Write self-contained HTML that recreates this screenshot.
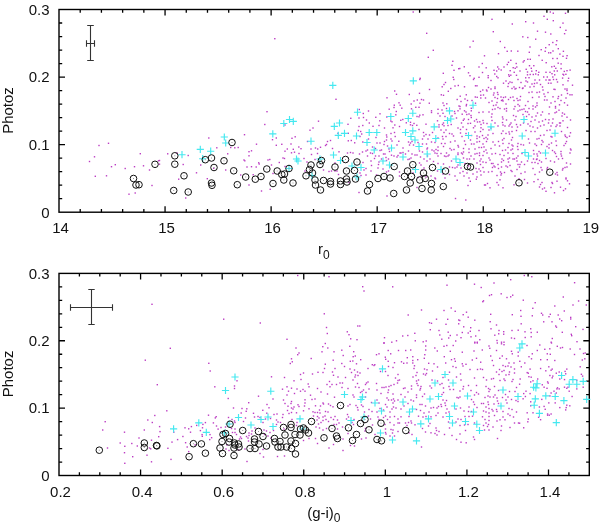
<!DOCTYPE html>
<html><head><meta charset="utf-8"><style>
html,body{margin:0;padding:0;background:#fff;}
svg{display:block;}
text{font-family:"Liberation Sans",Arial,sans-serif;fill:#111;}
</style></head><body>
<svg width="600" height="525" viewBox="0 0 600 525">
<rect width="600" height="525" fill="#fff"/>
<rect x="59" y="9.5" width="530.3" height="202.7" fill="none" stroke="#000" stroke-width="1.4"/>
<path d="M165.06 212.2v-6M165.06 9.5v6M271.12 212.2v-6M271.12 9.5v6M377.18 212.2v-6M377.18 9.5v6M483.24 212.2v-6M483.24 9.5v6M80.21 212.2v-3.2M80.21 9.5v3.2M101.42 212.2v-3.2M101.42 9.5v3.2M122.64 212.2v-3.2M122.64 9.5v3.2M143.85 212.2v-3.2M143.85 9.5v3.2M186.27 212.2v-3.2M186.27 9.5v3.2M207.48 212.2v-3.2M207.48 9.5v3.2M228.70 212.2v-3.2M228.70 9.5v3.2M249.91 212.2v-3.2M249.91 9.5v3.2M292.33 212.2v-3.2M292.33 9.5v3.2M313.54 212.2v-3.2M313.54 9.5v3.2M334.76 212.2v-3.2M334.76 9.5v3.2M355.97 212.2v-3.2M355.97 9.5v3.2M398.39 212.2v-3.2M398.39 9.5v3.2M419.60 212.2v-3.2M419.60 9.5v3.2M440.82 212.2v-3.2M440.82 9.5v3.2M462.03 212.2v-3.2M462.03 9.5v3.2M504.45 212.2v-3.2M504.45 9.5v3.2M525.66 212.2v-3.2M525.66 9.5v3.2M546.88 212.2v-3.2M546.88 9.5v3.2M568.09 212.2v-3.2M568.09 9.5v3.2M59 144.63h6M589.3 144.63h-6M59 77.07h6M589.3 77.07h-6M59 198.69h3.2M589.3 198.69h-3.2M59 185.17h3.2M589.3 185.17h-3.2M59 171.66h3.2M589.3 171.66h-3.2M59 158.15h3.2M589.3 158.15h-3.2M59 131.12h3.2M589.3 131.12h-3.2M59 117.61h3.2M589.3 117.61h-3.2M59 104.09h3.2M589.3 104.09h-3.2M59 90.58h3.2M589.3 90.58h-3.2M59 63.55h3.2M589.3 63.55h-3.2M59 50.04h3.2M589.3 50.04h-3.2M59 36.53h3.2M589.3 36.53h-3.2M59 23.01h3.2M589.3 23.01h-3.2" stroke="#000" stroke-width="1.3" fill="none"/>
<g fill="#bc3cc4"><rect x="98.3" y="144.8" width="1.4" height="1.4"/><rect x="107.8" y="142.6" width="1.4" height="1.4"/><rect x="93.8" y="156.1" width="1.4" height="1.4"/><rect x="88.8" y="160.8" width="1.4" height="1.4"/><rect x="110.8" y="166.0" width="1.4" height="1.4"/><rect x="114.6" y="164.0" width="1.4" height="1.4"/><rect x="124.5" y="167.8" width="1.4" height="1.4"/><rect x="133.8" y="166.0" width="1.4" height="1.4"/><rect x="142.8" y="165.1" width="1.4" height="1.4"/><rect x="139.6" y="153.0" width="1.4" height="1.4"/><rect x="148.8" y="169.3" width="1.4" height="1.4"/><rect x="157.8" y="160.1" width="1.4" height="1.4"/><rect x="94.6" y="175.6" width="1.4" height="1.4"/><rect x="105.8" y="175.1" width="1.4" height="1.4"/><rect x="151.3" y="184.8" width="1.4" height="1.4"/><rect x="128.3" y="193.5" width="1.4" height="1.4"/><rect x="134.5" y="192.3" width="1.4" height="1.4"/><rect x="274.1" y="38.0" width="1.4" height="1.4"/><rect x="412.5" y="11.3" width="1.4" height="1.4"/><rect x="426.0" y="32.6" width="1.4" height="1.4"/><rect x="432.6" y="49.6" width="1.4" height="1.4"/><rect x="427.6" y="56.6" width="1.4" height="1.4"/><rect x="452.1" y="60.6" width="1.4" height="1.4"/><rect x="451.3" y="64.6" width="1.4" height="1.4"/><rect x="453.3" y="69.6" width="1.4" height="1.4"/><rect x="442.6" y="72.6" width="1.4" height="1.4"/><rect x="452.5" y="76.6" width="1.4" height="1.4"/><rect x="419.5" y="77.6" width="1.4" height="1.4"/><rect x="458.0" y="68.0" width="1.4" height="1.4"/><rect x="549.6" y="11.3" width="1.4" height="1.4"/><rect x="552.6" y="12.5" width="1.4" height="1.4"/><rect x="543.3" y="15.6" width="1.4" height="1.4"/><rect x="546.6" y="18.6" width="1.4" height="1.4"/><rect x="552.6" y="20.0" width="1.4" height="1.4"/><rect x="491.3" y="18.6" width="1.4" height="1.4"/><rect x="525.0" y="21.0" width="1.4" height="1.4"/><rect x="532.8" y="22.3" width="1.4" height="1.4"/><rect x="511.6" y="23.3" width="1.4" height="1.4"/><rect x="492.6" y="31.0" width="1.4" height="1.4"/><rect x="536.8" y="30.5" width="1.4" height="1.4"/><rect x="544.8" y="31.5" width="1.4" height="1.4"/><rect x="550.1" y="33.3" width="1.4" height="1.4"/><rect x="522.1" y="36.1" width="1.4" height="1.4"/><rect x="527.1" y="36.8" width="1.4" height="1.4"/><rect x="535.0" y="38.5" width="1.4" height="1.4"/><rect x="556.1" y="40.0" width="1.4" height="1.4"/><rect x="472.5" y="40.5" width="1.4" height="1.4"/><rect x="499.6" y="40.8" width="1.4" height="1.4"/><rect x="469.3" y="46.3" width="1.4" height="1.4"/><rect x="504.0" y="46.8" width="1.4" height="1.4"/><rect x="529.3" y="46.3" width="1.4" height="1.4"/><rect x="545.0" y="47.0" width="1.4" height="1.4"/><rect x="548.5" y="44.0" width="1.4" height="1.4"/><rect x="552.1" y="41.8" width="1.4" height="1.4"/><rect x="555.5" y="44.0" width="1.4" height="1.4"/><rect x="557.6" y="48.0" width="1.4" height="1.4"/><rect x="540.5" y="49.0" width="1.4" height="1.4"/><rect x="544.5" y="50.6" width="1.4" height="1.4"/><rect x="552.3" y="50.3" width="1.4" height="1.4"/><rect x="548.0" y="52.1" width="1.4" height="1.4"/><rect x="550.0" y="52.1" width="1.4" height="1.4"/><rect x="506.5" y="50.6" width="1.4" height="1.4"/><rect x="510.6" y="50.3" width="1.4" height="1.4"/><rect x="517.1" y="50.5" width="1.4" height="1.4"/><rect x="528.6" y="51.6" width="1.4" height="1.4"/><rect x="497.8" y="53.0" width="1.4" height="1.4"/><rect x="483.8" y="55.1" width="1.4" height="1.4"/><rect x="538.3" y="54.8" width="1.4" height="1.4"/><rect x="527.1" y="58.6" width="1.4" height="1.4"/><rect x="529.6" y="58.6" width="1.4" height="1.4"/><rect x="541.5" y="59.6" width="1.4" height="1.4"/><rect x="552.1" y="57.8" width="1.4" height="1.4"/><rect x="556.5" y="57.8" width="1.4" height="1.4"/><rect x="507.8" y="61.6" width="1.4" height="1.4"/><rect x="510.1" y="59.6" width="1.4" height="1.4"/><rect x="522.5" y="61.3" width="1.4" height="1.4"/><rect x="523.5" y="60.0" width="1.4" height="1.4"/><rect x="506.6" y="63.8" width="1.4" height="1.4"/><rect x="515.5" y="62.8" width="1.4" height="1.4"/><rect x="503.3" y="66.3" width="1.4" height="1.4"/><rect x="481.6" y="62.8" width="1.4" height="1.4"/><rect x="478.3" y="66.3" width="1.4" height="1.4"/><rect x="485.5" y="67.1" width="1.4" height="1.4"/><rect x="497.0" y="66.3" width="1.4" height="1.4"/><rect x="516.1" y="66.3" width="1.4" height="1.4"/><rect x="514.5" y="67.6" width="1.4" height="1.4"/><rect x="512.5" y="67.0" width="1.4" height="1.4"/><rect x="528.8" y="65.0" width="1.4" height="1.4"/><rect x="533.1" y="65.0" width="1.4" height="1.4"/><rect x="525.5" y="68.6" width="1.4" height="1.4"/><rect x="530.6" y="67.6" width="1.4" height="1.4"/><rect x="545.5" y="62.0" width="1.4" height="1.4"/><rect x="551.1" y="66.1" width="1.4" height="1.4"/><rect x="553.6" y="65.6" width="1.4" height="1.4"/><rect x="555.1" y="67.6" width="1.4" height="1.4"/><rect x="557.5" y="62.5" width="1.4" height="1.4"/><rect x="459.1" y="67.8" width="1.4" height="1.4"/><rect x="463.6" y="66.1" width="1.4" height="1.4"/><rect x="467.8" y="72.1" width="1.4" height="1.4"/><rect x="469.3" y="75.0" width="1.4" height="1.4"/><rect x="481.8" y="71.8" width="1.4" height="1.4"/><rect x="493.3" y="69.6" width="1.4" height="1.4"/><rect x="496.0" y="70.3" width="1.4" height="1.4"/><rect x="498.1" y="68.3" width="1.4" height="1.4"/><rect x="500.5" y="69.3" width="1.4" height="1.4"/><rect x="513.5" y="71.6" width="1.4" height="1.4"/><rect x="509.5" y="70.0" width="1.4" height="1.4"/><rect x="519.3" y="70.3" width="1.4" height="1.4"/><rect x="526.8" y="71.3" width="1.4" height="1.4"/><rect x="531.1" y="70.5" width="1.4" height="1.4"/><rect x="535.6" y="70.0" width="1.4" height="1.4"/><rect x="538.1" y="71.6" width="1.4" height="1.4"/><rect x="545.3" y="71.6" width="1.4" height="1.4"/><rect x="549.3" y="71.6" width="1.4" height="1.4"/><rect x="553.6" y="70.3" width="1.4" height="1.4"/><rect x="556.6" y="70.3" width="1.4" height="1.4"/><rect x="487.5" y="75.0" width="1.4" height="1.4"/><rect x="494.1" y="73.3" width="1.4" height="1.4"/><rect x="496.0" y="75.8" width="1.4" height="1.4"/><rect x="497.3" y="77.1" width="1.4" height="1.4"/><rect x="508.0" y="74.1" width="1.4" height="1.4"/><rect x="508.6" y="75.6" width="1.4" height="1.4"/><rect x="510.1" y="74.5" width="1.4" height="1.4"/><rect x="515.8" y="74.6" width="1.4" height="1.4"/><rect x="526.8" y="74.1" width="1.4" height="1.4"/><rect x="529.5" y="73.8" width="1.4" height="1.4"/><rect x="532.6" y="73.8" width="1.4" height="1.4"/><rect x="535.0" y="73.3" width="1.4" height="1.4"/><rect x="537.6" y="74.1" width="1.4" height="1.4"/><rect x="551.3" y="73.0" width="1.4" height="1.4"/><rect x="552.1" y="76.3" width="1.4" height="1.4"/><rect x="554.0" y="74.1" width="1.4" height="1.4"/><rect x="473.5" y="77.6" width="1.4" height="1.4"/><rect x="478.3" y="76.6" width="1.4" height="1.4"/><rect x="487.5" y="77.0" width="1.4" height="1.4"/><rect x="525.0" y="77.1" width="1.4" height="1.4"/><rect x="528.3" y="77.0" width="1.4" height="1.4"/><rect x="543.0" y="76.3" width="1.4" height="1.4"/><rect x="546.6" y="76.3" width="1.4" height="1.4"/><rect x="564.8" y="12.6" width="1.4" height="1.4"/><rect x="562.3" y="22.4" width="1.4" height="1.4"/><rect x="559.6" y="26.7" width="1.4" height="1.4"/><rect x="565.2" y="29.6" width="1.4" height="1.4"/><rect x="563.9" y="33.0" width="1.4" height="1.4"/><rect x="562.7" y="50.6" width="1.4" height="1.4"/><rect x="559.2" y="53.4" width="1.4" height="1.4"/><rect x="562.3" y="55.6" width="1.4" height="1.4"/><rect x="566.4" y="55.0" width="1.4" height="1.4"/><rect x="565.8" y="57.6" width="1.4" height="1.4"/><rect x="560.4" y="63.2" width="1.4" height="1.4"/><rect x="560.4" y="67.9" width="1.4" height="1.4"/><rect x="563.6" y="70.7" width="1.4" height="1.4"/><rect x="566.3" y="70.0" width="1.4" height="1.4"/><rect x="569.4" y="69.4" width="1.4" height="1.4"/><rect x="562.3" y="73.6" width="1.4" height="1.4"/><rect x="565.2" y="73.6" width="1.4" height="1.4"/><rect x="561.9" y="77.4" width="1.4" height="1.4"/><rect x="567.9" y="77.6" width="1.4" height="1.4"/><rect x="563.0" y="74.3" width="1.4" height="1.4"/><rect x="208.1" y="137.3" width="1.4" height="1.4"/><rect x="243.8" y="134.0" width="1.4" height="1.4"/><rect x="255.8" y="143.5" width="1.4" height="1.4"/><rect x="237.5" y="146.8" width="1.4" height="1.4"/><rect x="234.1" y="147.1" width="1.4" height="1.4"/><rect x="230.0" y="146.8" width="1.4" height="1.4"/><rect x="216.1" y="147.1" width="1.4" height="1.4"/><rect x="167.0" y="153.1" width="1.4" height="1.4"/><rect x="187.5" y="154.8" width="1.4" height="1.4"/><rect x="176.3" y="152.3" width="1.4" height="1.4"/><rect x="158.8" y="159.8" width="1.4" height="1.4"/><rect x="182.5" y="163.8" width="1.4" height="1.4"/><rect x="200.0" y="164.3" width="1.4" height="1.4"/><rect x="227.0" y="153.1" width="1.4" height="1.4"/><rect x="250.8" y="150.1" width="1.4" height="1.4"/><rect x="248.3" y="151.0" width="1.4" height="1.4"/><rect x="248.3" y="155.1" width="1.4" height="1.4"/><rect x="243.3" y="159.3" width="1.4" height="1.4"/><rect x="244.1" y="160.1" width="1.4" height="1.4"/><rect x="258.0" y="162.1" width="1.4" height="1.4"/><rect x="246.3" y="166.3" width="1.4" height="1.4"/><rect x="250.8" y="166.0" width="1.4" height="1.4"/><rect x="255.5" y="166.3" width="1.4" height="1.4"/><rect x="225.0" y="169.3" width="1.4" height="1.4"/><rect x="195.8" y="172.1" width="1.4" height="1.4"/><rect x="178.0" y="178.5" width="1.4" height="1.4"/><rect x="206.6" y="178.0" width="1.4" height="1.4"/><rect x="240.0" y="174.3" width="1.4" height="1.4"/><rect x="252.5" y="174.0" width="1.4" height="1.4"/><rect x="248.3" y="184.3" width="1.4" height="1.4"/><rect x="185.0" y="197.3" width="1.4" height="1.4"/><rect x="213.0" y="167.6" width="1.4" height="1.4"/><rect x="158.8" y="163.5" width="1.4" height="1.4"/><rect x="266.3" y="111.0" width="1.4" height="1.4"/><rect x="264.1" y="123.8" width="1.4" height="1.4"/><rect x="284.3" y="124.3" width="1.4" height="1.4"/><rect x="275.6" y="137.3" width="1.4" height="1.4"/><rect x="271.8" y="139.0" width="1.4" height="1.4"/><rect x="294.5" y="136.1" width="1.4" height="1.4"/><rect x="291.3" y="137.6" width="1.4" height="1.4"/><rect x="275.6" y="144.6" width="1.4" height="1.4"/><rect x="281.1" y="143.6" width="1.4" height="1.4"/><rect x="290.3" y="143.3" width="1.4" height="1.4"/><rect x="298.1" y="146.3" width="1.4" height="1.4"/><rect x="300.3" y="148.0" width="1.4" height="1.4"/><rect x="292.6" y="148.6" width="1.4" height="1.4"/><rect x="286.6" y="148.3" width="1.4" height="1.4"/><rect x="306.8" y="140.8" width="1.4" height="1.4"/><rect x="317.8" y="120.5" width="1.4" height="1.4"/><rect x="312.3" y="127.3" width="1.4" height="1.4"/><rect x="309.3" y="129.5" width="1.4" height="1.4"/><rect x="350.1" y="117.6" width="1.4" height="1.4"/><rect x="358.6" y="108.8" width="1.4" height="1.4"/><rect x="362.6" y="112.8" width="1.4" height="1.4"/><rect x="358.3" y="117.3" width="1.4" height="1.4"/><rect x="362.8" y="116.8" width="1.4" height="1.4"/><rect x="347.3" y="123.6" width="1.4" height="1.4"/><rect x="358.3" y="125.8" width="1.4" height="1.4"/><rect x="362.1" y="124.8" width="1.4" height="1.4"/><rect x="357.6" y="129.8" width="1.4" height="1.4"/><rect x="360.0" y="130.8" width="1.4" height="1.4"/><rect x="361.0" y="133.3" width="1.4" height="1.4"/><rect x="359.3" y="135.8" width="1.4" height="1.4"/><rect x="347.6" y="132.6" width="1.4" height="1.4"/><rect x="337.3" y="132.6" width="1.4" height="1.4"/><rect x="347.6" y="140.1" width="1.4" height="1.4"/><rect x="350.6" y="139.8" width="1.4" height="1.4"/><rect x="354.0" y="142.1" width="1.4" height="1.4"/><rect x="362.1" y="141.3" width="1.4" height="1.4"/><rect x="329.8" y="139.8" width="1.4" height="1.4"/><rect x="326.8" y="140.8" width="1.4" height="1.4"/><rect x="325.8" y="143.8" width="1.4" height="1.4"/><rect x="324.8" y="144.8" width="1.4" height="1.4"/><rect x="319.8" y="146.6" width="1.4" height="1.4"/><rect x="314.8" y="147.3" width="1.4" height="1.4"/><rect x="317.0" y="148.3" width="1.4" height="1.4"/><rect x="310.3" y="148.3" width="1.4" height="1.4"/><rect x="331.8" y="147.8" width="1.4" height="1.4"/><rect x="335.3" y="98.6" width="1.4" height="1.4"/><rect x="284.3" y="150.5" width="1.4" height="1.4"/><rect x="290.8" y="152.1" width="1.4" height="1.4"/><rect x="293.8" y="151.5" width="1.4" height="1.4"/><rect x="298.3" y="152.8" width="1.4" height="1.4"/><rect x="267.3" y="159.3" width="1.4" height="1.4"/><rect x="269.1" y="158.8" width="1.4" height="1.4"/><rect x="282.3" y="157.3" width="1.4" height="1.4"/><rect x="283.8" y="157.8" width="1.4" height="1.4"/><rect x="278.6" y="161.8" width="1.4" height="1.4"/><rect x="258.5" y="163.3" width="1.4" height="1.4"/><rect x="270.8" y="164.3" width="1.4" height="1.4"/><rect x="272.3" y="172.8" width="1.4" height="1.4"/><rect x="260.8" y="190.3" width="1.4" height="1.4"/><rect x="269.5" y="188.6" width="1.4" height="1.4"/><rect x="303.3" y="157.8" width="1.4" height="1.4"/><rect x="306.3" y="161.3" width="1.4" height="1.4"/><rect x="284.3" y="165.8" width="1.4" height="1.4"/><rect x="304.3" y="170.3" width="1.4" height="1.4"/><rect x="310.8" y="153.8" width="1.4" height="1.4"/><rect x="316.8" y="152.8" width="1.4" height="1.4"/><rect x="338.3" y="151.1" width="1.4" height="1.4"/><rect x="346.8" y="152.3" width="1.4" height="1.4"/><rect x="349.8" y="151.8" width="1.4" height="1.4"/><rect x="352.3" y="152.3" width="1.4" height="1.4"/><rect x="358.8" y="153.3" width="1.4" height="1.4"/><rect x="361.8" y="151.3" width="1.4" height="1.4"/><rect x="314.3" y="158.8" width="1.4" height="1.4"/><rect x="322.8" y="169.3" width="1.4" height="1.4"/><rect x="328.3" y="170.8" width="1.4" height="1.4"/><rect x="330.8" y="170.3" width="1.4" height="1.4"/><rect x="334.3" y="170.3" width="1.4" height="1.4"/><rect x="336.3" y="170.3" width="1.4" height="1.4"/><rect x="337.8" y="173.8" width="1.4" height="1.4"/><rect x="334.3" y="162.3" width="1.4" height="1.4"/><rect x="362.3" y="161.8" width="1.4" height="1.4"/><rect x="363.3" y="169.3" width="1.4" height="1.4"/><rect x="359.3" y="172.3" width="1.4" height="1.4"/><rect x="360.3" y="174.8" width="1.4" height="1.4"/><rect x="358.3" y="191.8" width="1.4" height="1.4"/><rect x="348.3" y="181.8" width="1.4" height="1.4"/><rect x="419.1" y="78.8" width="1.4" height="1.4"/><rect x="394.0" y="90.3" width="1.4" height="1.4"/><rect x="395.8" y="93.6" width="1.4" height="1.4"/><rect x="408.6" y="93.8" width="1.4" height="1.4"/><rect x="418.8" y="92.6" width="1.4" height="1.4"/><rect x="386.3" y="97.1" width="1.4" height="1.4"/><rect x="413.3" y="100.3" width="1.4" height="1.4"/><rect x="416.6" y="99.3" width="1.4" height="1.4"/><rect x="420.8" y="98.8" width="1.4" height="1.4"/><rect x="422.8" y="99.3" width="1.4" height="1.4"/><rect x="398.3" y="102.1" width="1.4" height="1.4"/><rect x="399.5" y="104.5" width="1.4" height="1.4"/><rect x="393.6" y="104.5" width="1.4" height="1.4"/><rect x="393.3" y="106.8" width="1.4" height="1.4"/><rect x="401.1" y="107.5" width="1.4" height="1.4"/><rect x="410.5" y="103.3" width="1.4" height="1.4"/><rect x="419.3" y="102.5" width="1.4" height="1.4"/><rect x="415.1" y="106.6" width="1.4" height="1.4"/><rect x="418.3" y="106.6" width="1.4" height="1.4"/><rect x="410.8" y="108.1" width="1.4" height="1.4"/><rect x="388.5" y="108.5" width="1.4" height="1.4"/><rect x="395.6" y="110.8" width="1.4" height="1.4"/><rect x="367.8" y="110.3" width="1.4" height="1.4"/><rect x="379.3" y="113.1" width="1.4" height="1.4"/><rect x="395.1" y="114.1" width="1.4" height="1.4"/><rect x="386.1" y="116.3" width="1.4" height="1.4"/><rect x="375.1" y="116.6" width="1.4" height="1.4"/><rect x="365.8" y="119.3" width="1.4" height="1.4"/><rect x="379.1" y="120.1" width="1.4" height="1.4"/><rect x="368.6" y="122.3" width="1.4" height="1.4"/><rect x="390.1" y="120.3" width="1.4" height="1.4"/><rect x="391.3" y="121.1" width="1.4" height="1.4"/><rect x="400.1" y="119.6" width="1.4" height="1.4"/><rect x="402.1" y="118.8" width="1.4" height="1.4"/><rect x="405.6" y="122.1" width="1.4" height="1.4"/><rect x="409.8" y="121.6" width="1.4" height="1.4"/><rect x="413.3" y="122.8" width="1.4" height="1.4"/><rect x="409.8" y="124.1" width="1.4" height="1.4"/><rect x="411.8" y="124.8" width="1.4" height="1.4"/><rect x="416.1" y="124.6" width="1.4" height="1.4"/><rect x="416.3" y="115.8" width="1.4" height="1.4"/><rect x="418.3" y="116.1" width="1.4" height="1.4"/><rect x="419.1" y="114.5" width="1.4" height="1.4"/><rect x="422.3" y="114.1" width="1.4" height="1.4"/><rect x="394.1" y="124.3" width="1.4" height="1.4"/><rect x="398.8" y="125.8" width="1.4" height="1.4"/><rect x="378.3" y="124.8" width="1.4" height="1.4"/><rect x="372.3" y="125.6" width="1.4" height="1.4"/><rect x="383.8" y="127.3" width="1.4" height="1.4"/><rect x="392.3" y="127.1" width="1.4" height="1.4"/><rect x="393.8" y="131.8" width="1.4" height="1.4"/><rect x="390.3" y="132.8" width="1.4" height="1.4"/><rect x="385.8" y="134.3" width="1.4" height="1.4"/><rect x="386.1" y="136.3" width="1.4" height="1.4"/><rect x="394.5" y="135.8" width="1.4" height="1.4"/><rect x="398.1" y="140.6" width="1.4" height="1.4"/><rect x="390.3" y="138.3" width="1.4" height="1.4"/><rect x="391.3" y="140.3" width="1.4" height="1.4"/><rect x="385.8" y="139.3" width="1.4" height="1.4"/><rect x="383.8" y="140.8" width="1.4" height="1.4"/><rect x="376.3" y="142.3" width="1.4" height="1.4"/><rect x="379.3" y="142.3" width="1.4" height="1.4"/><rect x="375.3" y="136.8" width="1.4" height="1.4"/><rect x="367.8" y="138.3" width="1.4" height="1.4"/><rect x="383.3" y="143.8" width="1.4" height="1.4"/><rect x="386.8" y="145.3" width="1.4" height="1.4"/><rect x="388.3" y="148.3" width="1.4" height="1.4"/><rect x="396.3" y="144.3" width="1.4" height="1.4"/><rect x="402.3" y="147.3" width="1.4" height="1.4"/><rect x="407.8" y="141.3" width="1.4" height="1.4"/><rect x="409.8" y="142.3" width="1.4" height="1.4"/><rect x="411.3" y="140.8" width="1.4" height="1.4"/><rect x="408.8" y="144.3" width="1.4" height="1.4"/><rect x="412.8" y="144.3" width="1.4" height="1.4"/><rect x="417.3" y="141.8" width="1.4" height="1.4"/><rect x="421.8" y="143.3" width="1.4" height="1.4"/><rect x="421.8" y="138.3" width="1.4" height="1.4"/><rect x="423.3" y="135.3" width="1.4" height="1.4"/><rect x="422.8" y="131.8" width="1.4" height="1.4"/><rect x="418.3" y="128.8" width="1.4" height="1.4"/><rect x="371.8" y="146.3" width="1.4" height="1.4"/><rect x="366.8" y="149.3" width="1.4" height="1.4"/><rect x="365.3" y="150.3" width="1.4" height="1.4"/><rect x="369.8" y="152.3" width="1.4" height="1.4"/><rect x="371.8" y="152.8" width="1.4" height="1.4"/><rect x="374.8" y="147.8" width="1.4" height="1.4"/><rect x="379.3" y="149.8" width="1.4" height="1.4"/><rect x="380.8" y="149.3" width="1.4" height="1.4"/><rect x="388.8" y="150.8" width="1.4" height="1.4"/><rect x="382.8" y="153.3" width="1.4" height="1.4"/><rect x="384.3" y="153.3" width="1.4" height="1.4"/><rect x="378.3" y="155.3" width="1.4" height="1.4"/><rect x="374.8" y="155.3" width="1.4" height="1.4"/><rect x="366.8" y="155.3" width="1.4" height="1.4"/><rect x="373.8" y="157.8" width="1.4" height="1.4"/><rect x="370.3" y="160.3" width="1.4" height="1.4"/><rect x="385.3" y="156.8" width="1.4" height="1.4"/><rect x="390.8" y="154.5" width="1.4" height="1.4"/><rect x="393.3" y="155.3" width="1.4" height="1.4"/><rect x="396.3" y="156.3" width="1.4" height="1.4"/><rect x="399.3" y="152.3" width="1.4" height="1.4"/><rect x="400.3" y="152.3" width="1.4" height="1.4"/><rect x="402.3" y="151.8" width="1.4" height="1.4"/><rect x="397.3" y="154.8" width="1.4" height="1.4"/><rect x="411.3" y="153.3" width="1.4" height="1.4"/><rect x="407.8" y="150.3" width="1.4" height="1.4"/><rect x="408.8" y="158.3" width="1.4" height="1.4"/><rect x="410.3" y="157.3" width="1.4" height="1.4"/><rect x="407.3" y="158.8" width="1.4" height="1.4"/><rect x="404.8" y="153.3" width="1.4" height="1.4"/><rect x="414.3" y="154.3" width="1.4" height="1.4"/><rect x="416.3" y="154.3" width="1.4" height="1.4"/><rect x="418.8" y="150.3" width="1.4" height="1.4"/><rect x="421.8" y="151.3" width="1.4" height="1.4"/><rect x="419.8" y="156.3" width="1.4" height="1.4"/><rect x="423.3" y="158.3" width="1.4" height="1.4"/><rect x="418.8" y="162.3" width="1.4" height="1.4"/><rect x="420.3" y="164.3" width="1.4" height="1.4"/><rect x="423.3" y="167.3" width="1.4" height="1.4"/><rect x="378.3" y="161.3" width="1.4" height="1.4"/><rect x="385.8" y="159.8" width="1.4" height="1.4"/><rect x="387.8" y="158.3" width="1.4" height="1.4"/><rect x="380.8" y="158.3" width="1.4" height="1.4"/><rect x="370.8" y="164.8" width="1.4" height="1.4"/><rect x="377.3" y="167.3" width="1.4" height="1.4"/><rect x="382.3" y="168.3" width="1.4" height="1.4"/><rect x="385.8" y="171.3" width="1.4" height="1.4"/><rect x="387.8" y="170.3" width="1.4" height="1.4"/><rect x="370.3" y="170.3" width="1.4" height="1.4"/><rect x="365.3" y="167.8" width="1.4" height="1.4"/><rect x="365.3" y="174.3" width="1.4" height="1.4"/><rect x="375.8" y="174.3" width="1.4" height="1.4"/><rect x="421.3" y="169.3" width="1.4" height="1.4"/><rect x="398.8" y="171.3" width="1.4" height="1.4"/><rect x="398.8" y="175.3" width="1.4" height="1.4"/><rect x="412.3" y="172.3" width="1.4" height="1.4"/><rect x="417.3" y="176.8" width="1.4" height="1.4"/><rect x="420.8" y="175.3" width="1.4" height="1.4"/><rect x="377.8" y="163.8" width="1.4" height="1.4"/><rect x="386.3" y="195.3" width="1.4" height="1.4"/><rect x="416.3" y="186.8" width="1.4" height="1.4"/><rect x="453.1" y="78.8" width="1.4" height="1.4"/><rect x="472.8" y="78.8" width="1.4" height="1.4"/><rect x="444.8" y="81.8" width="1.4" height="1.4"/><rect x="443.3" y="83.8" width="1.4" height="1.4"/><rect x="441.5" y="86.1" width="1.4" height="1.4"/><rect x="454.3" y="85.3" width="1.4" height="1.4"/><rect x="457.6" y="84.8" width="1.4" height="1.4"/><rect x="463.8" y="86.1" width="1.4" height="1.4"/><rect x="474.8" y="85.1" width="1.4" height="1.4"/><rect x="476.3" y="85.1" width="1.4" height="1.4"/><rect x="428.8" y="88.8" width="1.4" height="1.4"/><rect x="450.1" y="87.8" width="1.4" height="1.4"/><rect x="447.6" y="90.6" width="1.4" height="1.4"/><rect x="479.8" y="90.8" width="1.4" height="1.4"/><rect x="482.1" y="89.3" width="1.4" height="1.4"/><rect x="440.6" y="94.1" width="1.4" height="1.4"/><rect x="442.8" y="94.6" width="1.4" height="1.4"/><rect x="459.5" y="95.5" width="1.4" height="1.4"/><rect x="465.6" y="94.1" width="1.4" height="1.4"/><rect x="474.6" y="96.3" width="1.4" height="1.4"/><rect x="476.5" y="96.6" width="1.4" height="1.4"/><rect x="480.1" y="94.5" width="1.4" height="1.4"/><rect x="482.8" y="94.3" width="1.4" height="1.4"/><rect x="480.1" y="97.3" width="1.4" height="1.4"/><rect x="456.5" y="98.8" width="1.4" height="1.4"/><rect x="464.3" y="98.3" width="1.4" height="1.4"/><rect x="466.8" y="99.8" width="1.4" height="1.4"/><rect x="471.3" y="99.8" width="1.4" height="1.4"/><rect x="460.3" y="100.8" width="1.4" height="1.4"/><rect x="428.6" y="102.5" width="1.4" height="1.4"/><rect x="442.3" y="102.3" width="1.4" height="1.4"/><rect x="446.1" y="103.1" width="1.4" height="1.4"/><rect x="443.3" y="104.8" width="1.4" height="1.4"/><rect x="458.3" y="105.3" width="1.4" height="1.4"/><rect x="459.3" y="105.8" width="1.4" height="1.4"/><rect x="465.8" y="103.8" width="1.4" height="1.4"/><rect x="465.6" y="105.1" width="1.4" height="1.4"/><rect x="474.8" y="102.5" width="1.4" height="1.4"/><rect x="445.8" y="107.8" width="1.4" height="1.4"/><rect x="459.3" y="108.1" width="1.4" height="1.4"/><rect x="437.3" y="108.6" width="1.4" height="1.4"/><rect x="441.3" y="109.3" width="1.4" height="1.4"/><rect x="430.8" y="110.1" width="1.4" height="1.4"/><rect x="430.8" y="111.8" width="1.4" height="1.4"/><rect x="437.3" y="112.8" width="1.4" height="1.4"/><rect x="442.3" y="112.6" width="1.4" height="1.4"/><rect x="439.3" y="115.3" width="1.4" height="1.4"/><rect x="453.8" y="110.8" width="1.4" height="1.4"/><rect x="457.3" y="110.1" width="1.4" height="1.4"/><rect x="463.8" y="110.1" width="1.4" height="1.4"/><rect x="465.3" y="111.3" width="1.4" height="1.4"/><rect x="470.6" y="110.1" width="1.4" height="1.4"/><rect x="470.6" y="107.6" width="1.4" height="1.4"/><rect x="478.3" y="111.8" width="1.4" height="1.4"/><rect x="482.3" y="111.3" width="1.4" height="1.4"/><rect x="454.3" y="112.8" width="1.4" height="1.4"/><rect x="461.5" y="113.5" width="1.4" height="1.4"/><rect x="466.1" y="113.8" width="1.4" height="1.4"/><rect x="468.3" y="113.3" width="1.4" height="1.4"/><rect x="470.3" y="114.8" width="1.4" height="1.4"/><rect x="470.6" y="116.8" width="1.4" height="1.4"/><rect x="444.3" y="115.8" width="1.4" height="1.4"/><rect x="451.3" y="115.3" width="1.4" height="1.4"/><rect x="455.8" y="117.3" width="1.4" height="1.4"/><rect x="463.5" y="118.3" width="1.4" height="1.4"/><rect x="462.6" y="119.6" width="1.4" height="1.4"/><rect x="467.8" y="118.8" width="1.4" height="1.4"/><rect x="473.8" y="120.3" width="1.4" height="1.4"/><rect x="475.8" y="118.8" width="1.4" height="1.4"/><rect x="476.8" y="121.3" width="1.4" height="1.4"/><rect x="479.1" y="121.1" width="1.4" height="1.4"/><rect x="482.3" y="119.8" width="1.4" height="1.4"/><rect x="436.8" y="120.1" width="1.4" height="1.4"/><rect x="442.8" y="122.3" width="1.4" height="1.4"/><rect x="425.3" y="123.5" width="1.4" height="1.4"/><rect x="438.3" y="124.1" width="1.4" height="1.4"/><rect x="441.8" y="123.8" width="1.4" height="1.4"/><rect x="443.3" y="125.1" width="1.4" height="1.4"/><rect x="450.5" y="123.8" width="1.4" height="1.4"/><rect x="447.3" y="124.8" width="1.4" height="1.4"/><rect x="460.8" y="122.3" width="1.4" height="1.4"/><rect x="467.3" y="122.8" width="1.4" height="1.4"/><rect x="469.8" y="122.6" width="1.4" height="1.4"/><rect x="474.3" y="125.3" width="1.4" height="1.4"/><rect x="480.3" y="123.8" width="1.4" height="1.4"/><rect x="482.8" y="122.3" width="1.4" height="1.4"/><rect x="438.3" y="126.3" width="1.4" height="1.4"/><rect x="457.3" y="127.3" width="1.4" height="1.4"/><rect x="462.3" y="126.3" width="1.4" height="1.4"/><rect x="472.8" y="127.1" width="1.4" height="1.4"/><rect x="480.3" y="127.1" width="1.4" height="1.4"/><rect x="440.3" y="129.3" width="1.4" height="1.4"/><rect x="445.3" y="129.3" width="1.4" height="1.4"/><rect x="459.8" y="128.8" width="1.4" height="1.4"/><rect x="465.8" y="128.8" width="1.4" height="1.4"/><rect x="482.3" y="128.8" width="1.4" height="1.4"/><rect x="431.8" y="131.8" width="1.4" height="1.4"/><rect x="443.3" y="131.8" width="1.4" height="1.4"/><rect x="448.8" y="132.8" width="1.4" height="1.4"/><rect x="451.3" y="133.3" width="1.4" height="1.4"/><rect x="459.8" y="132.3" width="1.4" height="1.4"/><rect x="465.3" y="132.8" width="1.4" height="1.4"/><rect x="474.3" y="131.3" width="1.4" height="1.4"/><rect x="479.8" y="130.8" width="1.4" height="1.4"/><rect x="425.3" y="133.8" width="1.4" height="1.4"/><rect x="428.8" y="134.3" width="1.4" height="1.4"/><rect x="441.8" y="135.8" width="1.4" height="1.4"/><rect x="445.3" y="135.8" width="1.4" height="1.4"/><rect x="452.8" y="135.3" width="1.4" height="1.4"/><rect x="461.3" y="135.8" width="1.4" height="1.4"/><rect x="470.8" y="134.8" width="1.4" height="1.4"/><rect x="476.3" y="135.3" width="1.4" height="1.4"/><rect x="478.8" y="136.3" width="1.4" height="1.4"/><rect x="481.8" y="134.8" width="1.4" height="1.4"/><rect x="483.3" y="137.8" width="1.4" height="1.4"/><rect x="427.3" y="138.3" width="1.4" height="1.4"/><rect x="437.3" y="137.3" width="1.4" height="1.4"/><rect x="442.3" y="138.3" width="1.4" height="1.4"/><rect x="476.3" y="137.8" width="1.4" height="1.4"/><rect x="425.8" y="143.3" width="1.4" height="1.4"/><rect x="430.8" y="141.3" width="1.4" height="1.4"/><rect x="434.3" y="141.8" width="1.4" height="1.4"/><rect x="440.8" y="142.8" width="1.4" height="1.4"/><rect x="444.3" y="142.8" width="1.4" height="1.4"/><rect x="449.8" y="141.3" width="1.4" height="1.4"/><rect x="454.3" y="140.3" width="1.4" height="1.4"/><rect x="463.8" y="140.3" width="1.4" height="1.4"/><rect x="469.8" y="139.3" width="1.4" height="1.4"/><rect x="470.8" y="143.3" width="1.4" height="1.4"/><rect x="473.3" y="143.3" width="1.4" height="1.4"/><rect x="476.3" y="141.3" width="1.4" height="1.4"/><rect x="478.8" y="140.8" width="1.4" height="1.4"/><rect x="482.3" y="143.3" width="1.4" height="1.4"/><rect x="464.8" y="143.8" width="1.4" height="1.4"/><rect x="457.3" y="144.8" width="1.4" height="1.4"/><rect x="457.8" y="146.3" width="1.4" height="1.4"/><rect x="426.8" y="147.3" width="1.4" height="1.4"/><rect x="426.3" y="148.3" width="1.4" height="1.4"/><rect x="437.3" y="146.3" width="1.4" height="1.4"/><rect x="442.8" y="145.8" width="1.4" height="1.4"/><rect x="449.3" y="147.8" width="1.4" height="1.4"/><rect x="462.8" y="147.8" width="1.4" height="1.4"/><rect x="468.3" y="148.3" width="1.4" height="1.4"/><rect x="474.3" y="148.3" width="1.4" height="1.4"/><rect x="478.3" y="146.8" width="1.4" height="1.4"/><rect x="480.8" y="146.8" width="1.4" height="1.4"/><rect x="483.3" y="146.3" width="1.4" height="1.4"/><rect x="431.3" y="149.3" width="1.4" height="1.4"/><rect x="433.3" y="150.3" width="1.4" height="1.4"/><rect x="435.3" y="148.8" width="1.4" height="1.4"/><rect x="437.3" y="149.8" width="1.4" height="1.4"/><rect x="434.3" y="152.3" width="1.4" height="1.4"/><rect x="436.3" y="152.8" width="1.4" height="1.4"/><rect x="440.3" y="152.8" width="1.4" height="1.4"/><rect x="437.3" y="155.3" width="1.4" height="1.4"/><rect x="445.8" y="152.3" width="1.4" height="1.4"/><rect x="448.3" y="154.3" width="1.4" height="1.4"/><rect x="447.3" y="155.3" width="1.4" height="1.4"/><rect x="445.3" y="155.8" width="1.4" height="1.4"/><rect x="443.8" y="155.3" width="1.4" height="1.4"/><rect x="450.8" y="149.3" width="1.4" height="1.4"/><rect x="453.3" y="148.8" width="1.4" height="1.4"/><rect x="457.3" y="152.3" width="1.4" height="1.4"/><rect x="460.8" y="152.3" width="1.4" height="1.4"/><rect x="461.8" y="153.3" width="1.4" height="1.4"/><rect x="462.8" y="151.3" width="1.4" height="1.4"/><rect x="457.3" y="153.8" width="1.4" height="1.4"/><rect x="468.3" y="151.8" width="1.4" height="1.4"/><rect x="470.3" y="155.3" width="1.4" height="1.4"/><rect x="474.3" y="153.3" width="1.4" height="1.4"/><rect x="476.3" y="152.8" width="1.4" height="1.4"/><rect x="478.8" y="152.3" width="1.4" height="1.4"/><rect x="478.8" y="154.8" width="1.4" height="1.4"/><rect x="482.3" y="154.8" width="1.4" height="1.4"/><rect x="483.3" y="150.8" width="1.4" height="1.4"/><rect x="426.8" y="155.3" width="1.4" height="1.4"/><rect x="429.3" y="158.3" width="1.4" height="1.4"/><rect x="480.3" y="158.3" width="1.4" height="1.4"/><rect x="473.3" y="158.3" width="1.4" height="1.4"/><rect x="466.3" y="158.3" width="1.4" height="1.4"/><rect x="462.8" y="157.3" width="1.4" height="1.4"/><rect x="468.8" y="158.3" width="1.4" height="1.4"/><rect x="426.3" y="160.3" width="1.4" height="1.4"/><rect x="432.8" y="160.8" width="1.4" height="1.4"/><rect x="437.3" y="162.8" width="1.4" height="1.4"/><rect x="442.8" y="163.3" width="1.4" height="1.4"/><rect x="450.8" y="160.3" width="1.4" height="1.4"/><rect x="457.3" y="164.3" width="1.4" height="1.4"/><rect x="456.3" y="166.3" width="1.4" height="1.4"/><rect x="460.3" y="167.3" width="1.4" height="1.4"/><rect x="454.3" y="167.3" width="1.4" height="1.4"/><rect x="448.8" y="166.3" width="1.4" height="1.4"/><rect x="451.8" y="166.8" width="1.4" height="1.4"/><rect x="467.8" y="165.3" width="1.4" height="1.4"/><rect x="476.3" y="162.3" width="1.4" height="1.4"/><rect x="479.3" y="160.3" width="1.4" height="1.4"/><rect x="482.3" y="161.3" width="1.4" height="1.4"/><rect x="479.8" y="163.8" width="1.4" height="1.4"/><rect x="482.3" y="166.8" width="1.4" height="1.4"/><rect x="475.3" y="167.8" width="1.4" height="1.4"/><rect x="478.3" y="168.3" width="1.4" height="1.4"/><rect x="464.3" y="162.8" width="1.4" height="1.4"/><rect x="436.8" y="170.3" width="1.4" height="1.4"/><rect x="442.3" y="173.3" width="1.4" height="1.4"/><rect x="448.8" y="173.8" width="1.4" height="1.4"/><rect x="454.3" y="175.3" width="1.4" height="1.4"/><rect x="459.3" y="172.3" width="1.4" height="1.4"/><rect x="462.3" y="170.8" width="1.4" height="1.4"/><rect x="466.3" y="172.3" width="1.4" height="1.4"/><rect x="472.3" y="173.3" width="1.4" height="1.4"/><rect x="476.3" y="171.3" width="1.4" height="1.4"/><rect x="479.8" y="170.3" width="1.4" height="1.4"/><rect x="483.3" y="171.3" width="1.4" height="1.4"/><rect x="480.3" y="174.3" width="1.4" height="1.4"/><rect x="476.3" y="176.3" width="1.4" height="1.4"/><rect x="468.3" y="177.3" width="1.4" height="1.4"/><rect x="463.3" y="175.3" width="1.4" height="1.4"/><rect x="434.3" y="177.3" width="1.4" height="1.4"/><rect x="430.3" y="175.3" width="1.4" height="1.4"/><rect x="425.3" y="176.3" width="1.4" height="1.4"/><rect x="444.3" y="177.3" width="1.4" height="1.4"/><rect x="434.8" y="178.1" width="1.4" height="1.4"/><rect x="456.5" y="179.5" width="1.4" height="1.4"/><rect x="469.6" y="180.6" width="1.4" height="1.4"/><rect x="475.6" y="178.5" width="1.4" height="1.4"/><rect x="467.3" y="184.8" width="1.4" height="1.4"/><rect x="454.8" y="197.8" width="1.4" height="1.4"/><rect x="465.1" y="199.3" width="1.4" height="1.4"/><rect x="483.8" y="184.3" width="1.4" height="1.4"/><rect x="490.3" y="79.8" width="1.4" height="1.4"/><rect x="502.8" y="82.5" width="1.4" height="1.4"/><rect x="505.3" y="80.3" width="1.4" height="1.4"/><rect x="507.8" y="82.8" width="1.4" height="1.4"/><rect x="509.3" y="81.3" width="1.4" height="1.4"/><rect x="511.3" y="81.8" width="1.4" height="1.4"/><rect x="507.3" y="85.8" width="1.4" height="1.4"/><rect x="511.3" y="87.8" width="1.4" height="1.4"/><rect x="514.3" y="88.3" width="1.4" height="1.4"/><rect x="513.3" y="86.3" width="1.4" height="1.4"/><rect x="515.3" y="87.8" width="1.4" height="1.4"/><rect x="485.8" y="89.3" width="1.4" height="1.4"/><rect x="487.8" y="86.8" width="1.4" height="1.4"/><rect x="490.3" y="88.3" width="1.4" height="1.4"/><rect x="494.3" y="86.3" width="1.4" height="1.4"/><rect x="494.3" y="87.8" width="1.4" height="1.4"/><rect x="486.3" y="90.3" width="1.4" height="1.4"/><rect x="493.3" y="92.3" width="1.4" height="1.4"/><rect x="496.8" y="91.8" width="1.4" height="1.4"/><rect x="497.3" y="93.8" width="1.4" height="1.4"/><rect x="492.8" y="94.3" width="1.4" height="1.4"/><rect x="494.3" y="96.8" width="1.4" height="1.4"/><rect x="496.8" y="97.8" width="1.4" height="1.4"/><rect x="500.3" y="96.3" width="1.4" height="1.4"/><rect x="502.8" y="96.8" width="1.4" height="1.4"/><rect x="504.8" y="96.3" width="1.4" height="1.4"/><rect x="501.8" y="99.3" width="1.4" height="1.4"/><rect x="502.3" y="100.3" width="1.4" height="1.4"/><rect x="500.8" y="99.8" width="1.4" height="1.4"/><rect x="488.3" y="101.8" width="1.4" height="1.4"/><rect x="491.3" y="100.3" width="1.4" height="1.4"/><rect x="496.3" y="101.8" width="1.4" height="1.4"/><rect x="507.8" y="98.8" width="1.4" height="1.4"/><rect x="509.8" y="96.8" width="1.4" height="1.4"/><rect x="512.3" y="96.3" width="1.4" height="1.4"/><rect x="513.3" y="99.8" width="1.4" height="1.4"/><rect x="484.8" y="97.3" width="1.4" height="1.4"/><rect x="517.3" y="78.8" width="1.4" height="1.4"/><rect x="520.3" y="81.8" width="1.4" height="1.4"/><rect x="525.3" y="80.3" width="1.4" height="1.4"/><rect x="526.8" y="81.3" width="1.4" height="1.4"/><rect x="531.3" y="83.3" width="1.4" height="1.4"/><rect x="533.8" y="82.8" width="1.4" height="1.4"/><rect x="536.3" y="82.3" width="1.4" height="1.4"/><rect x="538.8" y="79.3" width="1.4" height="1.4"/><rect x="534.3" y="79.3" width="1.4" height="1.4"/><rect x="541.8" y="86.3" width="1.4" height="1.4"/><rect x="539.8" y="83.8" width="1.4" height="1.4"/><rect x="518.8" y="86.8" width="1.4" height="1.4"/><rect x="521.8" y="87.8" width="1.4" height="1.4"/><rect x="522.3" y="87.3" width="1.4" height="1.4"/><rect x="524.3" y="85.3" width="1.4" height="1.4"/><rect x="529.3" y="86.3" width="1.4" height="1.4"/><rect x="533.3" y="85.8" width="1.4" height="1.4"/><rect x="528.3" y="91.8" width="1.4" height="1.4"/><rect x="531.3" y="91.3" width="1.4" height="1.4"/><rect x="536.3" y="91.8" width="1.4" height="1.4"/><rect x="538.8" y="91.3" width="1.4" height="1.4"/><rect x="542.3" y="89.3" width="1.4" height="1.4"/><rect x="543.3" y="93.3" width="1.4" height="1.4"/><rect x="538.3" y="96.3" width="1.4" height="1.4"/><rect x="531.8" y="96.8" width="1.4" height="1.4"/><rect x="519.8" y="95.8" width="1.4" height="1.4"/><rect x="516.3" y="97.8" width="1.4" height="1.4"/><rect x="517.3" y="99.8" width="1.4" height="1.4"/><rect x="519.3" y="99.3" width="1.4" height="1.4"/><rect x="527.3" y="100.8" width="1.4" height="1.4"/><rect x="536.3" y="102.3" width="1.4" height="1.4"/><rect x="543.8" y="99.3" width="1.4" height="1.4"/><rect x="492.8" y="104.8" width="1.4" height="1.4"/><rect x="495.3" y="104.3" width="1.4" height="1.4"/><rect x="497.3" y="106.8" width="1.4" height="1.4"/><rect x="499.3" y="107.8" width="1.4" height="1.4"/><rect x="494.3" y="108.3" width="1.4" height="1.4"/><rect x="491.8" y="108.8" width="1.4" height="1.4"/><rect x="503.8" y="108.3" width="1.4" height="1.4"/><rect x="505.8" y="107.8" width="1.4" height="1.4"/><rect x="505.8" y="110.3" width="1.4" height="1.4"/><rect x="505.3" y="103.3" width="1.4" height="1.4"/><rect x="488.3" y="111.3" width="1.4" height="1.4"/><rect x="491.3" y="113.3" width="1.4" height="1.4"/><rect x="490.8" y="116.3" width="1.4" height="1.4"/><rect x="491.3" y="119.8" width="1.4" height="1.4"/><rect x="494.3" y="122.3" width="1.4" height="1.4"/><rect x="501.8" y="116.3" width="1.4" height="1.4"/><rect x="502.3" y="118.3" width="1.4" height="1.4"/><rect x="505.8" y="119.3" width="1.4" height="1.4"/><rect x="501.8" y="121.8" width="1.4" height="1.4"/><rect x="502.3" y="124.3" width="1.4" height="1.4"/><rect x="510.3" y="122.3" width="1.4" height="1.4"/><rect x="509.3" y="123.8" width="1.4" height="1.4"/><rect x="513.3" y="108.3" width="1.4" height="1.4"/><rect x="514.3" y="105.8" width="1.4" height="1.4"/><rect x="512.8" y="114.8" width="1.4" height="1.4"/><rect x="515.3" y="115.8" width="1.4" height="1.4"/><rect x="514.3" y="119.3" width="1.4" height="1.4"/><rect x="486.3" y="122.8" width="1.4" height="1.4"/><rect x="497.3" y="125.3" width="1.4" height="1.4"/><rect x="504.3" y="125.3" width="1.4" height="1.4"/><rect x="508.3" y="125.3" width="1.4" height="1.4"/><rect x="511.3" y="126.3" width="1.4" height="1.4"/><rect x="490.3" y="127.3" width="1.4" height="1.4"/><rect x="517.3" y="103.8" width="1.4" height="1.4"/><rect x="518.8" y="105.3" width="1.4" height="1.4"/><rect x="524.8" y="104.8" width="1.4" height="1.4"/><rect x="528.3" y="107.8" width="1.4" height="1.4"/><rect x="532.3" y="105.3" width="1.4" height="1.4"/><rect x="536.3" y="104.8" width="1.4" height="1.4"/><rect x="534.8" y="106.3" width="1.4" height="1.4"/><rect x="532.3" y="108.3" width="1.4" height="1.4"/><rect x="523.3" y="108.3" width="1.4" height="1.4"/><rect x="524.8" y="110.8" width="1.4" height="1.4"/><rect x="521.3" y="108.8" width="1.4" height="1.4"/><rect x="519.3" y="109.3" width="1.4" height="1.4"/><rect x="517.3" y="110.3" width="1.4" height="1.4"/><rect x="526.8" y="111.3" width="1.4" height="1.4"/><rect x="522.3" y="113.8" width="1.4" height="1.4"/><rect x="525.8" y="115.8" width="1.4" height="1.4"/><rect x="528.3" y="113.8" width="1.4" height="1.4"/><rect x="536.8" y="112.3" width="1.4" height="1.4"/><rect x="541.8" y="111.3" width="1.4" height="1.4"/><rect x="540.3" y="114.3" width="1.4" height="1.4"/><rect x="535.3" y="115.3" width="1.4" height="1.4"/><rect x="534.3" y="119.3" width="1.4" height="1.4"/><rect x="538.3" y="121.3" width="1.4" height="1.4"/><rect x="541.8" y="120.3" width="1.4" height="1.4"/><rect x="530.3" y="120.8" width="1.4" height="1.4"/><rect x="527.3" y="123.3" width="1.4" height="1.4"/><rect x="522.8" y="122.3" width="1.4" height="1.4"/><rect x="515.8" y="123.8" width="1.4" height="1.4"/><rect x="519.8" y="124.3" width="1.4" height="1.4"/><rect x="516.8" y="126.3" width="1.4" height="1.4"/><rect x="529.3" y="125.3" width="1.4" height="1.4"/><rect x="532.3" y="126.3" width="1.4" height="1.4"/><rect x="536.8" y="127.3" width="1.4" height="1.4"/><rect x="539.8" y="125.3" width="1.4" height="1.4"/><rect x="543.3" y="124.3" width="1.4" height="1.4"/><rect x="531.3" y="116.3" width="1.4" height="1.4"/><rect x="488.3" y="129.3" width="1.4" height="1.4"/><rect x="487.3" y="134.3" width="1.4" height="1.4"/><rect x="485.3" y="136.8" width="1.4" height="1.4"/><rect x="486.8" y="138.3" width="1.4" height="1.4"/><rect x="485.8" y="140.8" width="1.4" height="1.4"/><rect x="492.3" y="132.8" width="1.4" height="1.4"/><rect x="492.3" y="141.3" width="1.4" height="1.4"/><rect x="494.3" y="144.3" width="1.4" height="1.4"/><rect x="497.8" y="140.8" width="1.4" height="1.4"/><rect x="500.8" y="132.8" width="1.4" height="1.4"/><rect x="502.3" y="130.3" width="1.4" height="1.4"/><rect x="501.8" y="139.3" width="1.4" height="1.4"/><rect x="502.3" y="142.8" width="1.4" height="1.4"/><rect x="503.3" y="137.8" width="1.4" height="1.4"/><rect x="505.3" y="132.8" width="1.4" height="1.4"/><rect x="508.3" y="131.3" width="1.4" height="1.4"/><rect x="508.8" y="133.3" width="1.4" height="1.4"/><rect x="511.3" y="130.8" width="1.4" height="1.4"/><rect x="510.8" y="139.3" width="1.4" height="1.4"/><rect x="511.8" y="136.8" width="1.4" height="1.4"/><rect x="508.3" y="142.8" width="1.4" height="1.4"/><rect x="511.3" y="144.3" width="1.4" height="1.4"/><rect x="512.3" y="145.3" width="1.4" height="1.4"/><rect x="490.3" y="147.8" width="1.4" height="1.4"/><rect x="485.3" y="149.3" width="1.4" height="1.4"/><rect x="486.3" y="152.3" width="1.4" height="1.4"/><rect x="491.3" y="153.3" width="1.4" height="1.4"/><rect x="494.8" y="152.8" width="1.4" height="1.4"/><rect x="498.8" y="145.3" width="1.4" height="1.4"/><rect x="501.8" y="149.8" width="1.4" height="1.4"/><rect x="504.8" y="149.3" width="1.4" height="1.4"/><rect x="507.3" y="146.8" width="1.4" height="1.4"/><rect x="510.3" y="149.3" width="1.4" height="1.4"/><rect x="511.8" y="148.3" width="1.4" height="1.4"/><rect x="507.3" y="152.3" width="1.4" height="1.4"/><rect x="512.3" y="152.8" width="1.4" height="1.4"/><rect x="499.3" y="153.8" width="1.4" height="1.4"/><rect x="515.8" y="129.8" width="1.4" height="1.4"/><rect x="525.3" y="129.8" width="1.4" height="1.4"/><rect x="530.3" y="130.8" width="1.4" height="1.4"/><rect x="534.3" y="130.8" width="1.4" height="1.4"/><rect x="543.3" y="134.3" width="1.4" height="1.4"/><rect x="539.8" y="134.8" width="1.4" height="1.4"/><rect x="527.8" y="138.3" width="1.4" height="1.4"/><rect x="528.8" y="142.3" width="1.4" height="1.4"/><rect x="536.3" y="138.3" width="1.4" height="1.4"/><rect x="538.3" y="137.8" width="1.4" height="1.4"/><rect x="541.3" y="139.8" width="1.4" height="1.4"/><rect x="542.3" y="141.3" width="1.4" height="1.4"/><rect x="534.3" y="143.3" width="1.4" height="1.4"/><rect x="535.8" y="144.8" width="1.4" height="1.4"/><rect x="540.8" y="143.8" width="1.4" height="1.4"/><rect x="517.3" y="142.8" width="1.4" height="1.4"/><rect x="520.3" y="143.8" width="1.4" height="1.4"/><rect x="522.8" y="144.3" width="1.4" height="1.4"/><rect x="516.8" y="145.8" width="1.4" height="1.4"/><rect x="517.3" y="148.8" width="1.4" height="1.4"/><rect x="532.8" y="149.8" width="1.4" height="1.4"/><rect x="538.3" y="150.8" width="1.4" height="1.4"/><rect x="536.3" y="153.3" width="1.4" height="1.4"/><rect x="539.8" y="152.3" width="1.4" height="1.4"/><rect x="521.3" y="152.8" width="1.4" height="1.4"/><rect x="533.3" y="153.3" width="1.4" height="1.4"/><rect x="488.3" y="157.3" width="1.4" height="1.4"/><rect x="489.3" y="159.3" width="1.4" height="1.4"/><rect x="485.3" y="161.8" width="1.4" height="1.4"/><rect x="490.8" y="162.8" width="1.4" height="1.4"/><rect x="492.3" y="162.8" width="1.4" height="1.4"/><rect x="493.3" y="165.3" width="1.4" height="1.4"/><rect x="494.3" y="166.3" width="1.4" height="1.4"/><rect x="491.8" y="166.8" width="1.4" height="1.4"/><rect x="497.3" y="163.8" width="1.4" height="1.4"/><rect x="497.8" y="167.8" width="1.4" height="1.4"/><rect x="500.8" y="166.3" width="1.4" height="1.4"/><rect x="501.3" y="158.3" width="1.4" height="1.4"/><rect x="502.8" y="159.8" width="1.4" height="1.4"/><rect x="500.8" y="161.3" width="1.4" height="1.4"/><rect x="503.3" y="154.8" width="1.4" height="1.4"/><rect x="507.3" y="158.3" width="1.4" height="1.4"/><rect x="508.8" y="157.3" width="1.4" height="1.4"/><rect x="507.8" y="161.3" width="1.4" height="1.4"/><rect x="505.3" y="165.3" width="1.4" height="1.4"/><rect x="506.8" y="166.3" width="1.4" height="1.4"/><rect x="509.3" y="164.8" width="1.4" height="1.4"/><rect x="512.3" y="158.3" width="1.4" height="1.4"/><rect x="513.8" y="158.3" width="1.4" height="1.4"/><rect x="487.8" y="171.3" width="1.4" height="1.4"/><rect x="491.3" y="170.8" width="1.4" height="1.4"/><rect x="499.8" y="171.3" width="1.4" height="1.4"/><rect x="500.8" y="172.8" width="1.4" height="1.4"/><rect x="500.3" y="174.3" width="1.4" height="1.4"/><rect x="503.8" y="171.8" width="1.4" height="1.4"/><rect x="496.3" y="174.8" width="1.4" height="1.4"/><rect x="510.3" y="169.8" width="1.4" height="1.4"/><rect x="511.3" y="170.8" width="1.4" height="1.4"/><rect x="515.8" y="157.3" width="1.4" height="1.4"/><rect x="516.3" y="160.3" width="1.4" height="1.4"/><rect x="517.3" y="155.3" width="1.4" height="1.4"/><rect x="517.3" y="163.8" width="1.4" height="1.4"/><rect x="518.8" y="166.3" width="1.4" height="1.4"/><rect x="519.3" y="163.8" width="1.4" height="1.4"/><rect x="520.8" y="161.3" width="1.4" height="1.4"/><rect x="523.8" y="163.8" width="1.4" height="1.4"/><rect x="526.8" y="160.3" width="1.4" height="1.4"/><rect x="531.3" y="161.8" width="1.4" height="1.4"/><rect x="534.3" y="161.8" width="1.4" height="1.4"/><rect x="537.3" y="162.8" width="1.4" height="1.4"/><rect x="538.8" y="159.8" width="1.4" height="1.4"/><rect x="540.8" y="161.3" width="1.4" height="1.4"/><rect x="535.8" y="158.8" width="1.4" height="1.4"/><rect x="532.8" y="158.3" width="1.4" height="1.4"/><rect x="536.8" y="155.3" width="1.4" height="1.4"/><rect x="540.3" y="166.8" width="1.4" height="1.4"/><rect x="541.3" y="169.3" width="1.4" height="1.4"/><rect x="538.8" y="171.3" width="1.4" height="1.4"/><rect x="532.3" y="167.8" width="1.4" height="1.4"/><rect x="524.3" y="171.3" width="1.4" height="1.4"/><rect x="520.3" y="172.8" width="1.4" height="1.4"/><rect x="516.3" y="168.8" width="1.4" height="1.4"/><rect x="514.3" y="175.3" width="1.4" height="1.4"/><rect x="534.3" y="173.8" width="1.4" height="1.4"/><rect x="536.3" y="158.3" width="1.4" height="1.4"/><rect x="499.3" y="179.1" width="1.4" height="1.4"/><rect x="496.3" y="181.8" width="1.4" height="1.4"/><rect x="497.8" y="184.3" width="1.4" height="1.4"/><rect x="486.8" y="182.8" width="1.4" height="1.4"/><rect x="484.8" y="184.3" width="1.4" height="1.4"/><rect x="489.3" y="187.1" width="1.4" height="1.4"/><rect x="502.3" y="187.1" width="1.4" height="1.4"/><rect x="513.3" y="184.1" width="1.4" height="1.4"/><rect x="518.3" y="178.1" width="1.4" height="1.4"/><rect x="523.8" y="178.8" width="1.4" height="1.4"/><rect x="526.8" y="182.3" width="1.4" height="1.4"/><rect x="533.3" y="181.0" width="1.4" height="1.4"/><rect x="537.3" y="178.8" width="1.4" height="1.4"/><rect x="541.3" y="181.8" width="1.4" height="1.4"/><rect x="539.8" y="183.8" width="1.4" height="1.4"/><rect x="538.8" y="186.3" width="1.4" height="1.4"/><rect x="541.8" y="188.3" width="1.4" height="1.4"/><rect x="543.8" y="187.3" width="1.4" height="1.4"/><rect x="545.3" y="79.3" width="1.4" height="1.4"/><rect x="548.3" y="79.3" width="1.4" height="1.4"/><rect x="549.3" y="79.3" width="1.4" height="1.4"/><rect x="552.8" y="78.8" width="1.4" height="1.4"/><rect x="555.8" y="78.8" width="1.4" height="1.4"/><rect x="547.8" y="82.5" width="1.4" height="1.4"/><rect x="550.3" y="82.5" width="1.4" height="1.4"/><rect x="556.8" y="81.3" width="1.4" height="1.4"/><rect x="567.3" y="80.1" width="1.4" height="1.4"/><rect x="562.3" y="84.1" width="1.4" height="1.4"/><rect x="571.8" y="84.5" width="1.4" height="1.4"/><rect x="553.3" y="88.6" width="1.4" height="1.4"/><rect x="554.3" y="88.8" width="1.4" height="1.4"/><rect x="564.3" y="88.3" width="1.4" height="1.4"/><rect x="566.3" y="88.3" width="1.4" height="1.4"/><rect x="566.3" y="89.8" width="1.4" height="1.4"/><rect x="547.3" y="91.8" width="1.4" height="1.4"/><rect x="544.3" y="95.8" width="1.4" height="1.4"/><rect x="552.3" y="96.1" width="1.4" height="1.4"/><rect x="557.8" y="95.8" width="1.4" height="1.4"/><rect x="560.8" y="94.3" width="1.4" height="1.4"/><rect x="566.8" y="92.8" width="1.4" height="1.4"/><rect x="569.3" y="94.1" width="1.4" height="1.4"/><rect x="571.3" y="94.1" width="1.4" height="1.4"/><rect x="565.3" y="97.3" width="1.4" height="1.4"/><rect x="546.3" y="99.3" width="1.4" height="1.4"/><rect x="557.3" y="97.8" width="1.4" height="1.4"/><rect x="560.3" y="99.8" width="1.4" height="1.4"/><rect x="554.3" y="100.8" width="1.4" height="1.4"/><rect x="550.3" y="102.3" width="1.4" height="1.4"/><rect x="563.8" y="102.1" width="1.4" height="1.4"/><rect x="566.8" y="104.5" width="1.4" height="1.4"/><rect x="558.8" y="104.1" width="1.4" height="1.4"/><rect x="548.8" y="106.3" width="1.4" height="1.4"/><rect x="554.8" y="105.8" width="1.4" height="1.4"/><rect x="554.8" y="107.3" width="1.4" height="1.4"/><rect x="558.3" y="109.5" width="1.4" height="1.4"/><rect x="554.3" y="112.1" width="1.4" height="1.4"/><rect x="555.8" y="111.3" width="1.4" height="1.4"/><rect x="548.3" y="113.1" width="1.4" height="1.4"/><rect x="561.8" y="112.3" width="1.4" height="1.4"/><rect x="563.8" y="113.5" width="1.4" height="1.4"/><rect x="561.3" y="115.3" width="1.4" height="1.4"/><rect x="566.3" y="116.5" width="1.4" height="1.4"/><rect x="569.8" y="119.3" width="1.4" height="1.4"/><rect x="562.3" y="120.1" width="1.4" height="1.4"/><rect x="552.3" y="118.3" width="1.4" height="1.4"/><rect x="548.3" y="119.1" width="1.4" height="1.4"/><rect x="544.8" y="118.8" width="1.4" height="1.4"/><rect x="547.8" y="122.3" width="1.4" height="1.4"/><rect x="551.8" y="122.3" width="1.4" height="1.4"/><rect x="558.8" y="122.3" width="1.4" height="1.4"/><rect x="559.8" y="122.3" width="1.4" height="1.4"/><rect x="556.3" y="124.3" width="1.4" height="1.4"/><rect x="559.3" y="125.3" width="1.4" height="1.4"/><rect x="555.3" y="125.8" width="1.4" height="1.4"/><rect x="550.3" y="125.3" width="1.4" height="1.4"/><rect x="566.8" y="126.8" width="1.4" height="1.4"/><rect x="546.3" y="129.8" width="1.4" height="1.4"/><rect x="549.3" y="129.3" width="1.4" height="1.4"/><rect x="560.8" y="130.8" width="1.4" height="1.4"/><rect x="569.8" y="132.1" width="1.4" height="1.4"/><rect x="550.3" y="135.8" width="1.4" height="1.4"/><rect x="551.3" y="136.3" width="1.4" height="1.4"/><rect x="564.3" y="134.3" width="1.4" height="1.4"/><rect x="566.3" y="136.8" width="1.4" height="1.4"/><rect x="568.8" y="135.5" width="1.4" height="1.4"/><rect x="564.8" y="135.8" width="1.4" height="1.4"/><rect x="555.3" y="140.3" width="1.4" height="1.4"/><rect x="565.8" y="140.8" width="1.4" height="1.4"/><rect x="564.8" y="142.8" width="1.4" height="1.4"/><rect x="563.3" y="144.8" width="1.4" height="1.4"/><rect x="550.8" y="142.3" width="1.4" height="1.4"/><rect x="548.3" y="143.8" width="1.4" height="1.4"/><rect x="546.3" y="145.8" width="1.4" height="1.4"/><rect x="548.3" y="147.3" width="1.4" height="1.4"/><rect x="555.8" y="144.8" width="1.4" height="1.4"/><rect x="551.8" y="149.8" width="1.4" height="1.4"/><rect x="553.8" y="151.3" width="1.4" height="1.4"/><rect x="554.8" y="152.8" width="1.4" height="1.4"/><rect x="560.3" y="150.8" width="1.4" height="1.4"/><rect x="560.3" y="153.3" width="1.4" height="1.4"/><rect x="560.8" y="155.3" width="1.4" height="1.4"/><rect x="561.8" y="157.8" width="1.4" height="1.4"/><rect x="557.8" y="158.3" width="1.4" height="1.4"/><rect x="555.8" y="155.8" width="1.4" height="1.4"/><rect x="569.8" y="148.3" width="1.4" height="1.4"/><rect x="570.3" y="149.3" width="1.4" height="1.4"/><rect x="569.3" y="152.3" width="1.4" height="1.4"/><rect x="545.3" y="157.8" width="1.4" height="1.4"/><rect x="549.8" y="160.3" width="1.4" height="1.4"/><rect x="553.8" y="161.3" width="1.4" height="1.4"/><rect x="565.8" y="162.3" width="1.4" height="1.4"/><rect x="569.8" y="163.3" width="1.4" height="1.4"/><rect x="546.8" y="166.8" width="1.4" height="1.4"/><rect x="546.3" y="168.3" width="1.4" height="1.4"/><rect x="562.3" y="167.8" width="1.4" height="1.4"/><rect x="564.3" y="166.8" width="1.4" height="1.4"/><rect x="566.3" y="166.3" width="1.4" height="1.4"/><rect x="561.8" y="169.3" width="1.4" height="1.4"/><rect x="556.3" y="171.8" width="1.4" height="1.4"/><rect x="556.8" y="174.3" width="1.4" height="1.4"/><rect x="554.8" y="173.3" width="1.4" height="1.4"/><rect x="565.3" y="177.3" width="1.4" height="1.4"/><rect x="565.3" y="178.3" width="1.4" height="1.4"/><rect x="566.8" y="180.1" width="1.4" height="1.4"/><rect x="568.8" y="183.1" width="1.4" height="1.4"/><rect x="556.3" y="180.5" width="1.4" height="1.4"/><rect x="551.3" y="181.8" width="1.4" height="1.4"/><rect x="551.8" y="182.8" width="1.4" height="1.4"/><rect x="550.3" y="186.8" width="1.4" height="1.4"/><rect x="559.8" y="186.5" width="1.4" height="1.4"/><rect x="562.8" y="189.8" width="1.4" height="1.4"/><rect x="564.8" y="188.1" width="1.4" height="1.4"/><rect x="553.8" y="192.1" width="1.4" height="1.4"/><rect x="545.3" y="190.6" width="1.4" height="1.4"/></g>
<path d="M220.7 137.0h7.2M224.3 133.4v7.2M222.1 143.0h7.2M225.7 139.4v7.2M178.4 154.7h7.2M182.0 151.1v7.2M196.7 149.3h7.2M200.3 145.7v7.2M207.1 151.2h7.2M210.7 147.6v7.2M199.1 158.7h7.2M202.7 155.1v7.2M285.9 119.5h7.2M289.5 115.9v7.2M289.7 121.3h7.2M293.3 117.7v7.2M280.2 123.5h7.2M283.8 119.9v7.2M269.2 133.8h7.2M272.8 130.2v7.2M353.9 112.2h7.2M357.5 108.6v7.2M335.9 123.0h7.2M339.5 119.4v7.2M330.7 126.3h7.2M334.3 122.7v7.2M340.9 133.3h7.2M344.5 129.7v7.2M334.7 135.3h7.2M338.3 131.7v7.2M352.9 136.0h7.2M356.5 132.4v7.2M307.4 141.2h7.2M311.0 137.6v7.2M329.2 85.3h7.2M332.8 81.7v7.2M292.9 159.0h7.2M296.5 155.4v7.2M294.4 161.0h7.2M298.0 157.4v7.2M285.4 168.5h7.2M289.0 164.9v7.2M316.4 159.0h7.2M320.0 155.4v7.2M329.9 155.0h7.2M333.5 151.4v7.2M336.9 160.5h7.2M340.5 156.9v7.2M348.4 166.0h7.2M352.0 162.4v7.2M357.4 167.5h7.2M361.0 163.9v7.2M353.4 177.0h7.2M357.0 173.4v7.2M308.4 175.5h7.2M312.0 171.9v7.2M409.7 80.8h7.2M413.3 77.2v7.2M387.2 116.5h7.2M390.8 112.9v7.2M404.7 118.5h7.2M408.3 114.9v7.2M409.2 113.2h7.2M412.8 109.6v7.2M365.6 132.5h7.2M369.2 128.9v7.2M373.2 132.5h7.2M376.8 128.9v7.2M401.9 132.5h7.2M405.5 128.9v7.2M409.2 130.8h7.2M412.8 127.2v7.2M407.4 136.5h7.2M411.0 132.9v7.2M411.4 140.0h7.2M415.0 136.4v7.2M363.4 142.5h7.2M367.0 138.9v7.2M370.6 150.0h7.2M374.2 146.4v7.2M387.9 148.0h7.2M391.5 144.4v7.2M399.4 157.0h7.2M403.0 153.4v7.2M379.4 161.0h7.2M383.0 157.4v7.2M385.9 165.0h7.2M389.5 161.4v7.2M415.4 146.5h7.2M419.0 142.9v7.2M411.9 169.5h7.2M415.5 165.9v7.2M469.4 105.2h7.2M473.0 101.6v7.2M445.9 110.8h7.2M449.5 107.2v7.2M443.9 120.5h7.2M447.5 116.9v7.2M447.2 119.0h7.2M450.8 115.4v7.2M430.6 126.8h7.2M434.2 123.2v7.2M432.2 138.5h7.2M435.8 134.9v7.2M464.9 135.5h7.2M468.5 131.9v7.2M423.6 154.0h7.2M427.2 150.4v7.2M452.4 159.0h7.2M456.0 155.4v7.2M456.4 162.5h7.2M460.0 158.9v7.2M437.4 169.5h7.2M441.0 165.9v7.2M520.4 119.5h7.2M524.0 115.9v7.2M487.4 126.8h7.2M491.0 123.2v7.2M518.6 136.0h7.2M522.2 132.4v7.2M521.4 152.5h7.2M525.0 148.9v7.2M524.9 156.0h7.2M528.5 152.4v7.2M551.4 133.2h7.2M555.0 129.6v7.2M541.9 153.0h7.2M545.5 149.4v7.2" stroke="#44e8f0" stroke-width="1.15" fill="none"/>
<g fill="none" stroke="#111" stroke-width="1.0"><circle cx="155.0" cy="164.3" r="3.3"/><circle cx="133.5" cy="178.5" r="3.3"/><circle cx="136.0" cy="185.0" r="3.3"/><circle cx="139.0" cy="184.7" r="3.3"/><circle cx="232.0" cy="142.5" r="3.3"/><circle cx="174.8" cy="155.8" r="3.3"/><circle cx="174.8" cy="164.2" r="3.3"/><circle cx="211.5" cy="158.0" r="3.3"/><circle cx="205.3" cy="159.7" r="3.3"/><circle cx="224.0" cy="160.8" r="3.3"/><circle cx="214.0" cy="167.5" r="3.3"/><circle cx="233.7" cy="170.8" r="3.3"/><circle cx="184.0" cy="175.8" r="3.3"/><circle cx="245.7" cy="177.0" r="3.3"/><circle cx="255.3" cy="179.2" r="3.3"/><circle cx="211.5" cy="183.0" r="3.3"/><circle cx="212.0" cy="185.3" r="3.3"/><circle cx="237.3" cy="184.7" r="3.3"/><circle cx="173.7" cy="190.5" r="3.3"/><circle cx="188.2" cy="192.0" r="3.3"/><circle cx="266.8" cy="169.0" r="3.3"/><circle cx="277.2" cy="171.0" r="3.3"/><circle cx="281.8" cy="174.5" r="3.3"/><circle cx="284.5" cy="174.0" r="3.3"/><circle cx="283.8" cy="180.0" r="3.3"/><circle cx="273.0" cy="183.5" r="3.3"/><circle cx="293.0" cy="183.0" r="3.3"/><circle cx="289.0" cy="168.5" r="3.3"/><circle cx="261.0" cy="176.5" r="3.3"/><circle cx="306.0" cy="175.8" r="3.3"/><circle cx="311.0" cy="165.0" r="3.3"/><circle cx="309.5" cy="169.5" r="3.3"/><circle cx="312.5" cy="173.0" r="3.3"/><circle cx="315.0" cy="180.0" r="3.3"/><circle cx="315.5" cy="185.0" r="3.3"/><circle cx="320.5" cy="190.0" r="3.3"/><circle cx="321.5" cy="160.5" r="3.3"/><circle cx="320.0" cy="164.5" r="3.3"/><circle cx="323.5" cy="180.5" r="3.3"/><circle cx="330.5" cy="181.5" r="3.3"/><circle cx="330.5" cy="184.0" r="3.3"/><circle cx="335.0" cy="167.0" r="3.3"/><circle cx="340.5" cy="181.0" r="3.3"/><circle cx="340.5" cy="184.5" r="3.3"/><circle cx="345.5" cy="159.5" r="3.3"/><circle cx="346.5" cy="171.0" r="3.3"/><circle cx="346.5" cy="179.0" r="3.3"/><circle cx="347.0" cy="182.0" r="3.3"/><circle cx="357.0" cy="162.0" r="3.3"/><circle cx="354.5" cy="170.5" r="3.3"/><circle cx="355.5" cy="179.0" r="3.3"/><circle cx="394.2" cy="166.5" r="3.3"/><circle cx="412.8" cy="164.7" r="3.3"/><circle cx="407.5" cy="171.0" r="3.3"/><circle cx="404.5" cy="176.5" r="3.3"/><circle cx="411.5" cy="176.5" r="3.3"/><circle cx="423.5" cy="173.0" r="3.3"/><circle cx="384.0" cy="176.5" r="3.3"/><circle cx="390.0" cy="178.0" r="3.3"/><circle cx="378.0" cy="178.5" r="3.3"/><circle cx="369.5" cy="184.5" r="3.3"/><circle cx="367.5" cy="191.0" r="3.3"/><circle cx="393.7" cy="193.5" r="3.3"/><circle cx="410.2" cy="183.0" r="3.3"/><circle cx="406.5" cy="190.0" r="3.3"/><circle cx="419.8" cy="180.0" r="3.3"/><circle cx="422.0" cy="188.5" r="3.3"/><circle cx="432.5" cy="167.5" r="3.3"/><circle cx="445.5" cy="171.0" r="3.3"/><circle cx="467.5" cy="166.5" r="3.3"/><circle cx="470.5" cy="167.0" r="3.3"/><circle cx="431.5" cy="183.5" r="3.3"/><circle cx="431.2" cy="190.0" r="3.3"/><circle cx="443.3" cy="186.5" r="3.3"/><circle cx="519.0" cy="182.8" r="3.3"/><circle cx="549.8" cy="172.2" r="3.3"/><circle cx="425.2" cy="178.4" r="3.3"/></g>
<g fill="#999"><rect x="154.5" y="163.8" width="1" height="1"/><rect x="133.0" y="178.0" width="1" height="1"/><rect x="135.5" y="184.5" width="1" height="1"/><rect x="138.5" y="184.2" width="1" height="1"/><rect x="231.5" y="142.0" width="1" height="1"/><rect x="174.3" y="155.3" width="1" height="1"/><rect x="174.3" y="163.7" width="1" height="1"/><rect x="211.0" y="157.5" width="1" height="1"/><rect x="204.8" y="159.2" width="1" height="1"/><rect x="223.5" y="160.3" width="1" height="1"/><rect x="213.5" y="167.0" width="1" height="1"/><rect x="233.2" y="170.3" width="1" height="1"/><rect x="183.5" y="175.3" width="1" height="1"/><rect x="245.2" y="176.5" width="1" height="1"/><rect x="254.8" y="178.7" width="1" height="1"/><rect x="211.0" y="182.5" width="1" height="1"/><rect x="211.5" y="184.8" width="1" height="1"/><rect x="236.8" y="184.2" width="1" height="1"/><rect x="173.2" y="190.0" width="1" height="1"/><rect x="187.7" y="191.5" width="1" height="1"/><rect x="266.3" y="168.5" width="1" height="1"/><rect x="276.7" y="170.5" width="1" height="1"/><rect x="281.3" y="174.0" width="1" height="1"/><rect x="284.0" y="173.5" width="1" height="1"/><rect x="283.3" y="179.5" width="1" height="1"/><rect x="272.5" y="183.0" width="1" height="1"/><rect x="292.5" y="182.5" width="1" height="1"/><rect x="288.5" y="168.0" width="1" height="1"/><rect x="260.5" y="176.0" width="1" height="1"/><rect x="305.5" y="175.3" width="1" height="1"/><rect x="310.5" y="164.5" width="1" height="1"/><rect x="309.0" y="169.0" width="1" height="1"/><rect x="312.0" y="172.5" width="1" height="1"/><rect x="314.5" y="179.5" width="1" height="1"/><rect x="315.0" y="184.5" width="1" height="1"/><rect x="320.0" y="189.5" width="1" height="1"/><rect x="321.0" y="160.0" width="1" height="1"/><rect x="319.5" y="164.0" width="1" height="1"/><rect x="323.0" y="180.0" width="1" height="1"/><rect x="330.0" y="181.0" width="1" height="1"/><rect x="330.0" y="183.5" width="1" height="1"/><rect x="334.5" y="166.5" width="1" height="1"/><rect x="340.0" y="180.5" width="1" height="1"/><rect x="340.0" y="184.0" width="1" height="1"/><rect x="345.0" y="159.0" width="1" height="1"/><rect x="346.0" y="170.5" width="1" height="1"/><rect x="346.0" y="178.5" width="1" height="1"/><rect x="346.5" y="181.5" width="1" height="1"/><rect x="356.5" y="161.5" width="1" height="1"/><rect x="354.0" y="170.0" width="1" height="1"/><rect x="355.0" y="178.5" width="1" height="1"/><rect x="393.7" y="166.0" width="1" height="1"/><rect x="412.3" y="164.2" width="1" height="1"/><rect x="407.0" y="170.5" width="1" height="1"/><rect x="404.0" y="176.0" width="1" height="1"/><rect x="411.0" y="176.0" width="1" height="1"/><rect x="423.0" y="172.5" width="1" height="1"/><rect x="383.5" y="176.0" width="1" height="1"/><rect x="389.5" y="177.5" width="1" height="1"/><rect x="377.5" y="178.0" width="1" height="1"/><rect x="369.0" y="184.0" width="1" height="1"/><rect x="367.0" y="190.5" width="1" height="1"/><rect x="393.2" y="193.0" width="1" height="1"/><rect x="409.7" y="182.5" width="1" height="1"/><rect x="406.0" y="189.5" width="1" height="1"/><rect x="419.3" y="179.5" width="1" height="1"/><rect x="421.5" y="188.0" width="1" height="1"/><rect x="432.0" y="167.0" width="1" height="1"/><rect x="445.0" y="170.5" width="1" height="1"/><rect x="467.0" y="166.0" width="1" height="1"/><rect x="470.0" y="166.5" width="1" height="1"/><rect x="431.0" y="183.0" width="1" height="1"/><rect x="430.7" y="189.5" width="1" height="1"/><rect x="442.8" y="186.0" width="1" height="1"/><rect x="518.5" y="182.3" width="1" height="1"/><rect x="549.3" y="171.7" width="1" height="1"/><rect x="424.7" y="177.9" width="1" height="1"/></g>
<path d="M90.5 25.5V60.5M87.2 25.5h6.6M87.2 60.5h6.6M86.5 43.5h8M86.5 40.3v6.4M94.5 40.3v6.4" stroke="#333" stroke-width="1.1" fill="none"/>
<rect x="59" y="273.4" width="530.3" height="202.10000000000002" fill="none" stroke="#000" stroke-width="1.4"/>
<path d="M140.58 475.5v-6M140.58 273.4v6M222.17 475.5v-6M222.17 273.4v6M303.75 475.5v-6M303.75 273.4v6M385.34 475.5v-6M385.34 273.4v6M466.92 475.5v-6M466.92 273.4v6M548.51 475.5v-6M548.51 273.4v6M79.40 475.5v-3.2M79.40 273.4v3.2M99.79 475.5v-3.2M99.79 273.4v3.2M120.19 475.5v-3.2M120.19 273.4v3.2M160.98 475.5v-3.2M160.98 273.4v3.2M181.38 475.5v-3.2M181.38 273.4v3.2M201.77 475.5v-3.2M201.77 273.4v3.2M242.57 475.5v-3.2M242.57 273.4v3.2M262.96 475.5v-3.2M262.96 273.4v3.2M283.36 475.5v-3.2M283.36 273.4v3.2M324.15 475.5v-3.2M324.15 273.4v3.2M344.55 475.5v-3.2M344.55 273.4v3.2M364.94 475.5v-3.2M364.94 273.4v3.2M405.73 475.5v-3.2M405.73 273.4v3.2M426.13 475.5v-3.2M426.13 273.4v3.2M446.53 475.5v-3.2M446.53 273.4v3.2M487.32 475.5v-3.2M487.32 273.4v3.2M507.72 475.5v-3.2M507.72 273.4v3.2M528.11 475.5v-3.2M528.11 273.4v3.2M568.90 475.5v-3.2M568.90 273.4v3.2M59 408.13h6M589.3 408.13h-6M59 340.77h6M589.3 340.77h-6M59 462.03h3.2M589.3 462.03h-3.2M59 448.55h3.2M589.3 448.55h-3.2M59 435.08h3.2M589.3 435.08h-3.2M59 421.61h3.2M589.3 421.61h-3.2M59 394.66h3.2M589.3 394.66h-3.2M59 381.19h3.2M589.3 381.19h-3.2M59 367.71h3.2M589.3 367.71h-3.2M59 354.24h3.2M589.3 354.24h-3.2M59 327.29h3.2M589.3 327.29h-3.2M59 313.82h3.2M589.3 313.82h-3.2M59 300.35h3.2M589.3 300.35h-3.2M59 286.87h3.2M589.3 286.87h-3.2" stroke="#000" stroke-width="1.3" fill="none"/>
<g fill="#bc3cc4"><rect x="144.6" y="359.5" width="1.4" height="1.4"/><rect x="156.6" y="384.0" width="1.4" height="1.4"/><rect x="151.3" y="303.6" width="1.4" height="1.4"/><rect x="104.5" y="421.0" width="1.4" height="1.4"/><rect x="102.0" y="429.3" width="1.4" height="1.4"/><rect x="106.8" y="447.3" width="1.4" height="1.4"/><rect x="123.8" y="431.5" width="1.4" height="1.4"/><rect x="119.5" y="442.3" width="1.4" height="1.4"/><rect x="124.1" y="445.6" width="1.4" height="1.4"/><rect x="123.8" y="452.0" width="1.4" height="1.4"/><rect x="124.1" y="462.6" width="1.4" height="1.4"/><rect x="131.1" y="442.8" width="1.4" height="1.4"/><rect x="132.0" y="456.0" width="1.4" height="1.4"/><rect x="138.3" y="437.3" width="1.4" height="1.4"/><rect x="136.6" y="445.3" width="1.4" height="1.4"/><rect x="143.6" y="429.3" width="1.4" height="1.4"/><rect x="147.1" y="419.3" width="1.4" height="1.4"/><rect x="151.6" y="421.8" width="1.4" height="1.4"/><rect x="154.1" y="414.8" width="1.4" height="1.4"/><rect x="150.8" y="439.5" width="1.4" height="1.4"/><rect x="150.0" y="448.1" width="1.4" height="1.4"/><rect x="146.3" y="454.5" width="1.4" height="1.4"/><rect x="150.8" y="461.1" width="1.4" height="1.4"/><rect x="158.0" y="436.0" width="1.4" height="1.4"/><rect x="148.8" y="447.3" width="1.4" height="1.4"/><rect x="223.0" y="318.5" width="1.4" height="1.4"/><rect x="169.6" y="347.6" width="1.4" height="1.4"/><rect x="208.1" y="362.6" width="1.4" height="1.4"/><rect x="209.5" y="370.3" width="1.4" height="1.4"/><rect x="214.1" y="386.1" width="1.4" height="1.4"/><rect x="166.1" y="410.1" width="1.4" height="1.4"/><rect x="158.9" y="425.9" width="1.4" height="1.4"/><rect x="159.3" y="430.9" width="1.4" height="1.4"/><rect x="173.1" y="431.5" width="1.4" height="1.4"/><rect x="184.3" y="427.1" width="1.4" height="1.4"/><rect x="188.0" y="428.1" width="1.4" height="1.4"/><rect x="190.7" y="425.9" width="1.4" height="1.4"/><rect x="189.8" y="431.5" width="1.4" height="1.4"/><rect x="182.2" y="435.8" width="1.4" height="1.4"/><rect x="176.9" y="438.9" width="1.4" height="1.4"/><rect x="171.3" y="441.4" width="1.4" height="1.4"/><rect x="167.2" y="447.6" width="1.4" height="1.4"/><rect x="184.9" y="442.0" width="1.4" height="1.4"/><rect x="186.5" y="446.3" width="1.4" height="1.4"/><rect x="188.0" y="450.9" width="1.4" height="1.4"/><rect x="194.4" y="444.2" width="1.4" height="1.4"/><rect x="170.3" y="458.7" width="1.4" height="1.4"/><rect x="207.8" y="414.5" width="1.4" height="1.4"/><rect x="204.7" y="421.9" width="1.4" height="1.4"/><rect x="202.2" y="423.7" width="1.4" height="1.4"/><rect x="196.0" y="424.7" width="1.4" height="1.4"/><rect x="199.7" y="429.9" width="1.4" height="1.4"/><rect x="201.8" y="427.1" width="1.4" height="1.4"/><rect x="201.4" y="433.9" width="1.4" height="1.4"/><rect x="201.6" y="435.6" width="1.4" height="1.4"/><rect x="209.3" y="433.9" width="1.4" height="1.4"/><rect x="209.0" y="438.9" width="1.4" height="1.4"/><rect x="210.9" y="437.0" width="1.4" height="1.4"/><rect x="212.7" y="422.2" width="1.4" height="1.4"/><rect x="214.6" y="417.2" width="1.4" height="1.4"/><rect x="215.5" y="416.0" width="1.4" height="1.4"/><rect x="215.8" y="425.3" width="1.4" height="1.4"/><rect x="217.4" y="428.4" width="1.4" height="1.4"/><rect x="270.8" y="376.1" width="1.4" height="1.4"/><rect x="236.3" y="380.1" width="1.4" height="1.4"/><rect x="233.8" y="385.3" width="1.4" height="1.4"/><rect x="233.8" y="387.8" width="1.4" height="1.4"/><rect x="227.5" y="397.8" width="1.4" height="1.4"/><rect x="257.8" y="395.5" width="1.4" height="1.4"/><rect x="272.3" y="398.3" width="1.4" height="1.4"/><rect x="248.0" y="402.0" width="1.4" height="1.4"/><rect x="266.3" y="403.8" width="1.4" height="1.4"/><rect x="268.3" y="407.1" width="1.4" height="1.4"/><rect x="232.8" y="407.3" width="1.4" height="1.4"/><rect x="241.3" y="407.8" width="1.4" height="1.4"/><rect x="246.1" y="408.1" width="1.4" height="1.4"/><rect x="245.5" y="410.6" width="1.4" height="1.4"/><rect x="240.5" y="412.3" width="1.4" height="1.4"/><rect x="252.8" y="412.6" width="1.4" height="1.4"/><rect x="262.1" y="409.6" width="1.4" height="1.4"/><rect x="266.1" y="412.5" width="1.4" height="1.4"/><rect x="273.3" y="413.8" width="1.4" height="1.4"/><rect x="276.3" y="413.3" width="1.4" height="1.4"/><rect x="227.8" y="416.8" width="1.4" height="1.4"/><rect x="231.3" y="418.8" width="1.4" height="1.4"/><rect x="233.8" y="420.3" width="1.4" height="1.4"/><rect x="234.3" y="421.8" width="1.4" height="1.4"/><rect x="242.8" y="420.8" width="1.4" height="1.4"/><rect x="244.8" y="417.3" width="1.4" height="1.4"/><rect x="253.8" y="416.3" width="1.4" height="1.4"/><rect x="257.3" y="415.8" width="1.4" height="1.4"/><rect x="259.3" y="416.8" width="1.4" height="1.4"/><rect x="262.3" y="421.8" width="1.4" height="1.4"/><rect x="264.8" y="418.3" width="1.4" height="1.4"/><rect x="269.8" y="417.8" width="1.4" height="1.4"/><rect x="275.8" y="419.3" width="1.4" height="1.4"/><rect x="277.3" y="421.3" width="1.4" height="1.4"/><rect x="275.8" y="423.8" width="1.4" height="1.4"/><rect x="220.3" y="426.8" width="1.4" height="1.4"/><rect x="224.8" y="426.3" width="1.4" height="1.4"/><rect x="230.8" y="427.8" width="1.4" height="1.4"/><rect x="234.3" y="428.3" width="1.4" height="1.4"/><rect x="231.8" y="431.8" width="1.4" height="1.4"/><rect x="234.3" y="431.8" width="1.4" height="1.4"/><rect x="235.8" y="433.8" width="1.4" height="1.4"/><rect x="239.8" y="436.3" width="1.4" height="1.4"/><rect x="240.8" y="437.8" width="1.4" height="1.4"/><rect x="238.8" y="438.3" width="1.4" height="1.4"/><rect x="248.3" y="432.3" width="1.4" height="1.4"/><rect x="250.8" y="433.3" width="1.4" height="1.4"/><rect x="248.3" y="434.8" width="1.4" height="1.4"/><rect x="245.8" y="435.8" width="1.4" height="1.4"/><rect x="247.3" y="437.3" width="1.4" height="1.4"/><rect x="251.3" y="430.3" width="1.4" height="1.4"/><rect x="254.3" y="427.3" width="1.4" height="1.4"/><rect x="263.3" y="429.3" width="1.4" height="1.4"/><rect x="265.8" y="430.3" width="1.4" height="1.4"/><rect x="263.8" y="433.8" width="1.4" height="1.4"/><rect x="269.3" y="431.8" width="1.4" height="1.4"/><rect x="267.3" y="435.3" width="1.4" height="1.4"/><rect x="270.3" y="437.3" width="1.4" height="1.4"/><rect x="272.8" y="429.8" width="1.4" height="1.4"/><rect x="226.3" y="444.3" width="1.4" height="1.4"/><rect x="225.3" y="448.3" width="1.4" height="1.4"/><rect x="228.3" y="449.8" width="1.4" height="1.4"/><rect x="237.8" y="449.3" width="1.4" height="1.4"/><rect x="247.8" y="440.3" width="1.4" height="1.4"/><rect x="259.3" y="452.8" width="1.4" height="1.4"/><rect x="262.3" y="448.8" width="1.4" height="1.4"/><rect x="262.8" y="456.3" width="1.4" height="1.4"/><rect x="246.3" y="460.8" width="1.4" height="1.4"/><rect x="276.8" y="455.8" width="1.4" height="1.4"/><rect x="244.3" y="448.3" width="1.4" height="1.4"/><rect x="279.8" y="421.8" width="1.4" height="1.4"/><rect x="281.8" y="416.8" width="1.4" height="1.4"/><rect x="283.3" y="428.3" width="1.4" height="1.4"/><rect x="291.3" y="418.8" width="1.4" height="1.4"/><rect x="296.3" y="421.8" width="1.4" height="1.4"/><rect x="295.8" y="424.8" width="1.4" height="1.4"/><rect x="302.8" y="439.8" width="1.4" height="1.4"/><rect x="308.3" y="437.8" width="1.4" height="1.4"/><rect x="312.8" y="415.3" width="1.4" height="1.4"/><rect x="316.8" y="415.8" width="1.4" height="1.4"/><rect x="318.3" y="417.3" width="1.4" height="1.4"/><rect x="322.3" y="416.3" width="1.4" height="1.4"/><rect x="324.3" y="415.3" width="1.4" height="1.4"/><rect x="316.3" y="419.3" width="1.4" height="1.4"/><rect x="317.8" y="423.3" width="1.4" height="1.4"/><rect x="320.3" y="421.8" width="1.4" height="1.4"/><rect x="322.3" y="419.8" width="1.4" height="1.4"/><rect x="325.3" y="418.8" width="1.4" height="1.4"/><rect x="327.8" y="420.8" width="1.4" height="1.4"/><rect x="330.3" y="416.8" width="1.4" height="1.4"/><rect x="332.8" y="418.8" width="1.4" height="1.4"/><rect x="334.3" y="415.8" width="1.4" height="1.4"/><rect x="336.8" y="419.3" width="1.4" height="1.4"/><rect x="318.8" y="427.3" width="1.4" height="1.4"/><rect x="322.3" y="429.3" width="1.4" height="1.4"/><rect x="325.8" y="427.8" width="1.4" height="1.4"/><rect x="315.3" y="426.3" width="1.4" height="1.4"/><rect x="314.8" y="437.8" width="1.4" height="1.4"/><rect x="316.8" y="442.8" width="1.4" height="1.4"/><rect x="328.3" y="447.3" width="1.4" height="1.4"/><rect x="332.8" y="443.8" width="1.4" height="1.4"/><rect x="333.3" y="423.8" width="1.4" height="1.4"/><rect x="335.8" y="423.8" width="1.4" height="1.4"/><rect x="283.8" y="455.3" width="1.4" height="1.4"/><rect x="336.8" y="428.3" width="1.4" height="1.4"/><rect x="323.8" y="367.8" width="1.4" height="1.4"/><rect x="334.3" y="367.8" width="1.4" height="1.4"/><rect x="331.8" y="371.3" width="1.4" height="1.4"/><rect x="317.3" y="371.6" width="1.4" height="1.4"/><rect x="322.3" y="371.8" width="1.4" height="1.4"/><rect x="302.8" y="372.3" width="1.4" height="1.4"/><rect x="299.8" y="373.8" width="1.4" height="1.4"/><rect x="311.8" y="373.3" width="1.4" height="1.4"/><rect x="332.8" y="374.6" width="1.4" height="1.4"/><rect x="283.8" y="376.8" width="1.4" height="1.4"/><rect x="300.3" y="378.8" width="1.4" height="1.4"/><rect x="293.3" y="380.1" width="1.4" height="1.4"/><rect x="337.3" y="376.3" width="1.4" height="1.4"/><rect x="328.8" y="380.8" width="1.4" height="1.4"/><rect x="326.3" y="383.8" width="1.4" height="1.4"/><rect x="331.3" y="383.8" width="1.4" height="1.4"/><rect x="335.8" y="383.8" width="1.4" height="1.4"/><rect x="329.3" y="386.1" width="1.4" height="1.4"/><rect x="307.5" y="383.3" width="1.4" height="1.4"/><rect x="308.3" y="386.1" width="1.4" height="1.4"/><rect x="286.3" y="386.1" width="1.4" height="1.4"/><rect x="290.8" y="387.5" width="1.4" height="1.4"/><rect x="281.8" y="388.5" width="1.4" height="1.4"/><rect x="296.3" y="388.3" width="1.4" height="1.4"/><rect x="302.3" y="388.8" width="1.4" height="1.4"/><rect x="299.8" y="390.5" width="1.4" height="1.4"/><rect x="304.3" y="390.5" width="1.4" height="1.4"/><rect x="287.8" y="390.5" width="1.4" height="1.4"/><rect x="316.8" y="387.8" width="1.4" height="1.4"/><rect x="320.3" y="391.3" width="1.4" height="1.4"/><rect x="293.8" y="392.8" width="1.4" height="1.4"/><rect x="326.8" y="393.3" width="1.4" height="1.4"/><rect x="286.3" y="394.3" width="1.4" height="1.4"/><rect x="309.8" y="394.5" width="1.4" height="1.4"/><rect x="333.8" y="396.5" width="1.4" height="1.4"/><rect x="311.3" y="398.8" width="1.4" height="1.4"/><rect x="314.3" y="398.3" width="1.4" height="1.4"/><rect x="304.3" y="399.1" width="1.4" height="1.4"/><rect x="282.8" y="399.3" width="1.4" height="1.4"/><rect x="290.8" y="400.8" width="1.4" height="1.4"/><rect x="284.3" y="402.8" width="1.4" height="1.4"/><rect x="290.3" y="402.8" width="1.4" height="1.4"/><rect x="297.3" y="404.1" width="1.4" height="1.4"/><rect x="298.3" y="405.8" width="1.4" height="1.4"/><rect x="304.3" y="402.3" width="1.4" height="1.4"/><rect x="303.8" y="405.3" width="1.4" height="1.4"/><rect x="322.3" y="402.3" width="1.4" height="1.4"/><rect x="322.8" y="403.3" width="1.4" height="1.4"/><rect x="327.8" y="403.3" width="1.4" height="1.4"/><rect x="329.8" y="404.8" width="1.4" height="1.4"/><rect x="332.3" y="406.1" width="1.4" height="1.4"/><rect x="314.8" y="405.1" width="1.4" height="1.4"/><rect x="319.8" y="405.3" width="1.4" height="1.4"/><rect x="287.3" y="405.5" width="1.4" height="1.4"/><rect x="290.8" y="407.3" width="1.4" height="1.4"/><rect x="293.3" y="406.3" width="1.4" height="1.4"/><rect x="292.3" y="408.3" width="1.4" height="1.4"/><rect x="308.3" y="408.1" width="1.4" height="1.4"/><rect x="318.8" y="409.3" width="1.4" height="1.4"/><rect x="286.8" y="409.8" width="1.4" height="1.4"/><rect x="290.8" y="411.8" width="1.4" height="1.4"/><rect x="288.3" y="412.8" width="1.4" height="1.4"/><rect x="295.8" y="412.1" width="1.4" height="1.4"/><rect x="302.8" y="410.1" width="1.4" height="1.4"/><rect x="312.3" y="411.1" width="1.4" height="1.4"/><rect x="314.3" y="411.8" width="1.4" height="1.4"/><rect x="316.8" y="411.8" width="1.4" height="1.4"/><rect x="319.3" y="412.3" width="1.4" height="1.4"/><rect x="324.8" y="410.8" width="1.4" height="1.4"/><rect x="327.3" y="411.3" width="1.4" height="1.4"/><rect x="282.3" y="413.8" width="1.4" height="1.4"/><rect x="345.8" y="418.3" width="1.4" height="1.4"/><rect x="347.8" y="416.3" width="1.4" height="1.4"/><rect x="353.3" y="418.8" width="1.4" height="1.4"/><rect x="351.3" y="421.8" width="1.4" height="1.4"/><rect x="352.8" y="423.8" width="1.4" height="1.4"/><rect x="338.3" y="422.3" width="1.4" height="1.4"/><rect x="341.8" y="426.3" width="1.4" height="1.4"/><rect x="347.3" y="432.8" width="1.4" height="1.4"/><rect x="342.3" y="438.3" width="1.4" height="1.4"/><rect x="349.8" y="444.8" width="1.4" height="1.4"/><rect x="353.8" y="445.3" width="1.4" height="1.4"/><rect x="342.3" y="449.8" width="1.4" height="1.4"/><rect x="360.8" y="438.3" width="1.4" height="1.4"/><rect x="365.3" y="437.3" width="1.4" height="1.4"/><rect x="364.8" y="427.8" width="1.4" height="1.4"/><rect x="364.3" y="430.3" width="1.4" height="1.4"/><rect x="369.8" y="418.3" width="1.4" height="1.4"/><rect x="371.8" y="424.3" width="1.4" height="1.4"/><rect x="367.8" y="415.3" width="1.4" height="1.4"/><rect x="377.3" y="416.3" width="1.4" height="1.4"/><rect x="378.3" y="418.8" width="1.4" height="1.4"/><rect x="382.8" y="416.8" width="1.4" height="1.4"/><rect x="384.8" y="415.3" width="1.4" height="1.4"/><rect x="389.3" y="416.3" width="1.4" height="1.4"/><rect x="393.8" y="415.8" width="1.4" height="1.4"/><rect x="397.3" y="418.3" width="1.4" height="1.4"/><rect x="386.8" y="418.8" width="1.4" height="1.4"/><rect x="384.3" y="423.8" width="1.4" height="1.4"/><rect x="389.3" y="421.8" width="1.4" height="1.4"/><rect x="393.3" y="424.3" width="1.4" height="1.4"/><rect x="397.3" y="422.3" width="1.4" height="1.4"/><rect x="384.8" y="428.3" width="1.4" height="1.4"/><rect x="384.8" y="431.8" width="1.4" height="1.4"/><rect x="385.3" y="433.3" width="1.4" height="1.4"/><rect x="390.3" y="428.8" width="1.4" height="1.4"/><rect x="392.3" y="429.3" width="1.4" height="1.4"/><rect x="391.8" y="432.3" width="1.4" height="1.4"/><rect x="393.8" y="435.3" width="1.4" height="1.4"/><rect x="389.3" y="435.3" width="1.4" height="1.4"/><rect x="397.3" y="430.8" width="1.4" height="1.4"/><rect x="374.3" y="433.8" width="1.4" height="1.4"/><rect x="343.8" y="365.8" width="1.4" height="1.4"/><rect x="349.3" y="368.3" width="1.4" height="1.4"/><rect x="353.8" y="369.3" width="1.4" height="1.4"/><rect x="356.8" y="371.3" width="1.4" height="1.4"/><rect x="359.3" y="372.3" width="1.4" height="1.4"/><rect x="350.8" y="371.8" width="1.4" height="1.4"/><rect x="354.8" y="374.3" width="1.4" height="1.4"/><rect x="357.3" y="374.8" width="1.4" height="1.4"/><rect x="354.3" y="376.3" width="1.4" height="1.4"/><rect x="344.8" y="376.8" width="1.4" height="1.4"/><rect x="352.3" y="379.3" width="1.4" height="1.4"/><rect x="367.3" y="367.8" width="1.4" height="1.4"/><rect x="373.3" y="364.8" width="1.4" height="1.4"/><rect x="387.8" y="365.8" width="1.4" height="1.4"/><rect x="392.3" y="366.8" width="1.4" height="1.4"/><rect x="379.8" y="370.8" width="1.4" height="1.4"/><rect x="384.8" y="370.8" width="1.4" height="1.4"/><rect x="387.3" y="374.8" width="1.4" height="1.4"/><rect x="397.3" y="373.8" width="1.4" height="1.4"/><rect x="394.8" y="377.3" width="1.4" height="1.4"/><rect x="397.3" y="379.8" width="1.4" height="1.4"/><rect x="396.8" y="382.3" width="1.4" height="1.4"/><rect x="393.3" y="383.8" width="1.4" height="1.4"/><rect x="390.3" y="384.8" width="1.4" height="1.4"/><rect x="388.3" y="385.8" width="1.4" height="1.4"/><rect x="385.3" y="386.3" width="1.4" height="1.4"/><rect x="383.3" y="386.8" width="1.4" height="1.4"/><rect x="381.3" y="386.8" width="1.4" height="1.4"/><rect x="375.8" y="382.8" width="1.4" height="1.4"/><rect x="367.3" y="381.3" width="1.4" height="1.4"/><rect x="365.8" y="382.3" width="1.4" height="1.4"/><rect x="364.8" y="383.8" width="1.4" height="1.4"/><rect x="356.8" y="382.8" width="1.4" height="1.4"/><rect x="339.3" y="382.3" width="1.4" height="1.4"/><rect x="341.8" y="382.3" width="1.4" height="1.4"/><rect x="341.3" y="386.8" width="1.4" height="1.4"/><rect x="347.3" y="387.8" width="1.4" height="1.4"/><rect x="354.8" y="386.3" width="1.4" height="1.4"/><rect x="358.3" y="386.8" width="1.4" height="1.4"/><rect x="368.3" y="388.3" width="1.4" height="1.4"/><rect x="362.8" y="389.3" width="1.4" height="1.4"/><rect x="361.3" y="390.8" width="1.4" height="1.4"/><rect x="359.8" y="391.8" width="1.4" height="1.4"/><rect x="365.3" y="391.8" width="1.4" height="1.4"/><rect x="376.3" y="389.3" width="1.4" height="1.4"/><rect x="380.3" y="392.8" width="1.4" height="1.4"/><rect x="387.8" y="389.3" width="1.4" height="1.4"/><rect x="387.3" y="391.8" width="1.4" height="1.4"/><rect x="392.3" y="393.3" width="1.4" height="1.4"/><rect x="352.3" y="394.3" width="1.4" height="1.4"/><rect x="353.3" y="396.3" width="1.4" height="1.4"/><rect x="364.8" y="396.3" width="1.4" height="1.4"/><rect x="386.3" y="397.3" width="1.4" height="1.4"/><rect x="387.8" y="399.3" width="1.4" height="1.4"/><rect x="390.8" y="399.3" width="1.4" height="1.4"/><rect x="392.8" y="398.3" width="1.4" height="1.4"/><rect x="393.8" y="400.3" width="1.4" height="1.4"/><rect x="392.3" y="402.3" width="1.4" height="1.4"/><rect x="397.3" y="399.3" width="1.4" height="1.4"/><rect x="370.8" y="401.8" width="1.4" height="1.4"/><rect x="378.3" y="402.3" width="1.4" height="1.4"/><rect x="376.3" y="399.3" width="1.4" height="1.4"/><rect x="384.8" y="403.8" width="1.4" height="1.4"/><rect x="349.3" y="403.8" width="1.4" height="1.4"/><rect x="347.3" y="405.3" width="1.4" height="1.4"/><rect x="355.3" y="404.8" width="1.4" height="1.4"/><rect x="360.8" y="404.3" width="1.4" height="1.4"/><rect x="362.3" y="405.8" width="1.4" height="1.4"/><rect x="356.8" y="406.8" width="1.4" height="1.4"/><rect x="357.3" y="409.3" width="1.4" height="1.4"/><rect x="363.8" y="411.3" width="1.4" height="1.4"/><rect x="368.3" y="408.8" width="1.4" height="1.4"/><rect x="371.3" y="410.8" width="1.4" height="1.4"/><rect x="376.3" y="411.3" width="1.4" height="1.4"/><rect x="379.3" y="407.8" width="1.4" height="1.4"/><rect x="382.8" y="409.3" width="1.4" height="1.4"/><rect x="386.3" y="406.3" width="1.4" height="1.4"/><rect x="391.3" y="408.3" width="1.4" height="1.4"/><rect x="392.8" y="406.3" width="1.4" height="1.4"/><rect x="395.3" y="407.3" width="1.4" height="1.4"/><rect x="346.8" y="413.8" width="1.4" height="1.4"/><rect x="389.3" y="411.3" width="1.4" height="1.4"/><rect x="400.3" y="416.1" width="1.4" height="1.4"/><rect x="408.3" y="415.8" width="1.4" height="1.4"/><rect x="398.8" y="422.3" width="1.4" height="1.4"/><rect x="404.8" y="422.3" width="1.4" height="1.4"/><rect x="407.8" y="421.8" width="1.4" height="1.4"/><rect x="410.3" y="420.3" width="1.4" height="1.4"/><rect x="410.8" y="422.3" width="1.4" height="1.4"/><rect x="414.3" y="424.1" width="1.4" height="1.4"/><rect x="406.3" y="424.8" width="1.4" height="1.4"/><rect x="411.3" y="433.8" width="1.4" height="1.4"/><rect x="408.3" y="432.1" width="1.4" height="1.4"/><rect x="417.8" y="415.5" width="1.4" height="1.4"/><rect x="422.3" y="416.3" width="1.4" height="1.4"/><rect x="425.3" y="415.8" width="1.4" height="1.4"/><rect x="430.3" y="416.1" width="1.4" height="1.4"/><rect x="435.3" y="414.8" width="1.4" height="1.4"/><rect x="442.3" y="416.3" width="1.4" height="1.4"/><rect x="429.3" y="422.8" width="1.4" height="1.4"/><rect x="427.8" y="425.3" width="1.4" height="1.4"/><rect x="421.8" y="427.8" width="1.4" height="1.4"/><rect x="424.8" y="431.3" width="1.4" height="1.4"/><rect x="430.3" y="432.1" width="1.4" height="1.4"/><rect x="435.3" y="427.3" width="1.4" height="1.4"/><rect x="435.8" y="429.8" width="1.4" height="1.4"/><rect x="438.3" y="430.8" width="1.4" height="1.4"/><rect x="434.3" y="432.8" width="1.4" height="1.4"/><rect x="436.3" y="434.3" width="1.4" height="1.4"/><rect x="443.8" y="433.8" width="1.4" height="1.4"/><rect x="448.8" y="427.3" width="1.4" height="1.4"/><rect x="451.3" y="434.8" width="1.4" height="1.4"/><rect x="447.8" y="421.3" width="1.4" height="1.4"/><rect x="455.3" y="421.3" width="1.4" height="1.4"/><rect x="457.3" y="418.3" width="1.4" height="1.4"/><rect x="455.8" y="438.8" width="1.4" height="1.4"/><rect x="420.8" y="446.3" width="1.4" height="1.4"/><rect x="413.8" y="365.1" width="1.4" height="1.4"/><rect x="413.3" y="367.8" width="1.4" height="1.4"/><rect x="423.8" y="368.3" width="1.4" height="1.4"/><rect x="426.3" y="369.1" width="1.4" height="1.4"/><rect x="436.8" y="366.3" width="1.4" height="1.4"/><rect x="452.3" y="365.8" width="1.4" height="1.4"/><rect x="455.3" y="366.8" width="1.4" height="1.4"/><rect x="431.8" y="370.3" width="1.4" height="1.4"/><rect x="416.3" y="371.8" width="1.4" height="1.4"/><rect x="422.8" y="373.3" width="1.4" height="1.4"/><rect x="424.8" y="374.3" width="1.4" height="1.4"/><rect x="425.8" y="372.8" width="1.4" height="1.4"/><rect x="415.3" y="374.8" width="1.4" height="1.4"/><rect x="412.3" y="376.3" width="1.4" height="1.4"/><rect x="448.8" y="371.5" width="1.4" height="1.4"/><rect x="442.3" y="376.8" width="1.4" height="1.4"/><rect x="455.8" y="376.3" width="1.4" height="1.4"/><rect x="447.8" y="379.3" width="1.4" height="1.4"/><rect x="398.8" y="379.3" width="1.4" height="1.4"/><rect x="417.8" y="379.3" width="1.4" height="1.4"/><rect x="415.8" y="380.3" width="1.4" height="1.4"/><rect x="416.3" y="382.8" width="1.4" height="1.4"/><rect x="417.3" y="384.8" width="1.4" height="1.4"/><rect x="420.3" y="385.8" width="1.4" height="1.4"/><rect x="419.8" y="387.8" width="1.4" height="1.4"/><rect x="419.3" y="389.3" width="1.4" height="1.4"/><rect x="410.8" y="385.3" width="1.4" height="1.4"/><rect x="410.8" y="388.3" width="1.4" height="1.4"/><rect x="404.3" y="387.3" width="1.4" height="1.4"/><rect x="402.8" y="387.8" width="1.4" height="1.4"/><rect x="407.3" y="391.3" width="1.4" height="1.4"/><rect x="441.3" y="382.8" width="1.4" height="1.4"/><rect x="439.3" y="383.8" width="1.4" height="1.4"/><rect x="429.3" y="385.3" width="1.4" height="1.4"/><rect x="430.8" y="387.3" width="1.4" height="1.4"/><rect x="431.3" y="379.3" width="1.4" height="1.4"/><rect x="436.8" y="380.3" width="1.4" height="1.4"/><rect x="442.8" y="387.3" width="1.4" height="1.4"/><rect x="448.3" y="385.8" width="1.4" height="1.4"/><rect x="449.3" y="388.8" width="1.4" height="1.4"/><rect x="452.8" y="388.8" width="1.4" height="1.4"/><rect x="442.8" y="391.8" width="1.4" height="1.4"/><rect x="441.3" y="393.8" width="1.4" height="1.4"/><rect x="400.3" y="393.8" width="1.4" height="1.4"/><rect x="404.3" y="396.3" width="1.4" height="1.4"/><rect x="415.8" y="394.3" width="1.4" height="1.4"/><rect x="415.8" y="396.8" width="1.4" height="1.4"/><rect x="421.8" y="395.8" width="1.4" height="1.4"/><rect x="423.8" y="393.3" width="1.4" height="1.4"/><rect x="410.3" y="399.3" width="1.4" height="1.4"/><rect x="412.8" y="400.3" width="1.4" height="1.4"/><rect x="442.3" y="399.3" width="1.4" height="1.4"/><rect x="445.8" y="399.8" width="1.4" height="1.4"/><rect x="444.3" y="402.3" width="1.4" height="1.4"/><rect x="456.3" y="396.8" width="1.4" height="1.4"/><rect x="457.8" y="397.3" width="1.4" height="1.4"/><rect x="407.3" y="402.8" width="1.4" height="1.4"/><rect x="419.3" y="403.8" width="1.4" height="1.4"/><rect x="421.3" y="403.8" width="1.4" height="1.4"/><rect x="424.8" y="405.3" width="1.4" height="1.4"/><rect x="430.3" y="407.3" width="1.4" height="1.4"/><rect x="432.8" y="406.8" width="1.4" height="1.4"/><rect x="436.3" y="407.3" width="1.4" height="1.4"/><rect x="437.8" y="405.8" width="1.4" height="1.4"/><rect x="440.3" y="403.8" width="1.4" height="1.4"/><rect x="440.8" y="405.8" width="1.4" height="1.4"/><rect x="444.8" y="404.8" width="1.4" height="1.4"/><rect x="446.3" y="408.3" width="1.4" height="1.4"/><rect x="448.3" y="411.3" width="1.4" height="1.4"/><rect x="445.3" y="412.3" width="1.4" height="1.4"/><rect x="403.3" y="405.3" width="1.4" height="1.4"/><rect x="400.3" y="408.3" width="1.4" height="1.4"/><rect x="415.8" y="408.8" width="1.4" height="1.4"/><rect x="419.8" y="409.8" width="1.4" height="1.4"/><rect x="428.3" y="411.3" width="1.4" height="1.4"/><rect x="423.3" y="412.3" width="1.4" height="1.4"/><rect x="437.3" y="412.3" width="1.4" height="1.4"/><rect x="455.3" y="408.3" width="1.4" height="1.4"/><rect x="464.3" y="415.8" width="1.4" height="1.4"/><rect x="468.3" y="415.8" width="1.4" height="1.4"/><rect x="471.8" y="415.5" width="1.4" height="1.4"/><rect x="481.8" y="416.1" width="1.4" height="1.4"/><rect x="488.3" y="415.8" width="1.4" height="1.4"/><rect x="493.8" y="414.8" width="1.4" height="1.4"/><rect x="502.3" y="416.3" width="1.4" height="1.4"/><rect x="509.3" y="414.8" width="1.4" height="1.4"/><rect x="512.8" y="416.3" width="1.4" height="1.4"/><rect x="460.3" y="418.8" width="1.4" height="1.4"/><rect x="484.3" y="418.8" width="1.4" height="1.4"/><rect x="488.3" y="419.8" width="1.4" height="1.4"/><rect x="496.3" y="420.3" width="1.4" height="1.4"/><rect x="499.3" y="419.1" width="1.4" height="1.4"/><rect x="504.3" y="419.1" width="1.4" height="1.4"/><rect x="473.8" y="422.3" width="1.4" height="1.4"/><rect x="467.3" y="423.8" width="1.4" height="1.4"/><rect x="463.8" y="424.3" width="1.4" height="1.4"/><rect x="459.3" y="424.8" width="1.4" height="1.4"/><rect x="482.8" y="424.8" width="1.4" height="1.4"/><rect x="485.3" y="422.3" width="1.4" height="1.4"/><rect x="487.8" y="423.8" width="1.4" height="1.4"/><rect x="486.8" y="425.8" width="1.4" height="1.4"/><rect x="492.3" y="426.3" width="1.4" height="1.4"/><rect x="500.8" y="425.3" width="1.4" height="1.4"/><rect x="509.3" y="426.8" width="1.4" height="1.4"/><rect x="513.8" y="422.3" width="1.4" height="1.4"/><rect x="517.8" y="422.3" width="1.4" height="1.4"/><rect x="464.8" y="429.8" width="1.4" height="1.4"/><rect x="483.8" y="429.3" width="1.4" height="1.4"/><rect x="488.3" y="429.3" width="1.4" height="1.4"/><rect x="500.3" y="429.8" width="1.4" height="1.4"/><rect x="459.3" y="433.3" width="1.4" height="1.4"/><rect x="472.8" y="436.3" width="1.4" height="1.4"/><rect x="473.8" y="438.8" width="1.4" height="1.4"/><rect x="496.8" y="437.8" width="1.4" height="1.4"/><rect x="460.3" y="441.5" width="1.4" height="1.4"/><rect x="465.5" y="442.1" width="1.4" height="1.4"/><rect x="462.3" y="365.3" width="1.4" height="1.4"/><rect x="469.3" y="368.8" width="1.4" height="1.4"/><rect x="476.8" y="368.8" width="1.4" height="1.4"/><rect x="479.8" y="368.3" width="1.4" height="1.4"/><rect x="481.8" y="368.8" width="1.4" height="1.4"/><rect x="492.8" y="364.8" width="1.4" height="1.4"/><rect x="502.3" y="364.8" width="1.4" height="1.4"/><rect x="504.8" y="365.8" width="1.4" height="1.4"/><rect x="507.3" y="365.3" width="1.4" height="1.4"/><rect x="510.3" y="366.3" width="1.4" height="1.4"/><rect x="513.8" y="368.3" width="1.4" height="1.4"/><rect x="495.8" y="371.3" width="1.4" height="1.4"/><rect x="498.8" y="368.8" width="1.4" height="1.4"/><rect x="501.3" y="370.8" width="1.4" height="1.4"/><rect x="503.3" y="369.8" width="1.4" height="1.4"/><rect x="505.3" y="374.3" width="1.4" height="1.4"/><rect x="508.3" y="373.8" width="1.4" height="1.4"/><rect x="508.8" y="371.3" width="1.4" height="1.4"/><rect x="513.8" y="372.3" width="1.4" height="1.4"/><rect x="498.3" y="373.8" width="1.4" height="1.4"/><rect x="459.8" y="373.3" width="1.4" height="1.4"/><rect x="460.3" y="379.3" width="1.4" height="1.4"/><rect x="473.8" y="377.3" width="1.4" height="1.4"/><rect x="482.8" y="376.8" width="1.4" height="1.4"/><rect x="485.8" y="379.3" width="1.4" height="1.4"/><rect x="490.8" y="378.3" width="1.4" height="1.4"/><rect x="492.8" y="377.8" width="1.4" height="1.4"/><rect x="499.3" y="379.8" width="1.4" height="1.4"/><rect x="503.3" y="378.3" width="1.4" height="1.4"/><rect x="504.3" y="379.8" width="1.4" height="1.4"/><rect x="511.3" y="380.8" width="1.4" height="1.4"/><rect x="512.3" y="378.8" width="1.4" height="1.4"/><rect x="462.8" y="385.8" width="1.4" height="1.4"/><rect x="467.8" y="384.8" width="1.4" height="1.4"/><rect x="475.8" y="384.8" width="1.4" height="1.4"/><rect x="462.3" y="388.3" width="1.4" height="1.4"/><rect x="470.3" y="389.8" width="1.4" height="1.4"/><rect x="459.3" y="390.3" width="1.4" height="1.4"/><rect x="485.3" y="385.8" width="1.4" height="1.4"/><rect x="487.8" y="387.8" width="1.4" height="1.4"/><rect x="489.3" y="388.8" width="1.4" height="1.4"/><rect x="488.3" y="390.8" width="1.4" height="1.4"/><rect x="493.8" y="385.8" width="1.4" height="1.4"/><rect x="497.8" y="389.8" width="1.4" height="1.4"/><rect x="508.8" y="390.8" width="1.4" height="1.4"/><rect x="514.3" y="390.8" width="1.4" height="1.4"/><rect x="515.8" y="386.8" width="1.4" height="1.4"/><rect x="473.8" y="394.3" width="1.4" height="1.4"/><rect x="475.8" y="391.8" width="1.4" height="1.4"/><rect x="477.8" y="393.3" width="1.4" height="1.4"/><rect x="459.3" y="396.3" width="1.4" height="1.4"/><rect x="470.8" y="398.8" width="1.4" height="1.4"/><rect x="472.8" y="401.3" width="1.4" height="1.4"/><rect x="473.8" y="403.8" width="1.4" height="1.4"/><rect x="484.3" y="396.8" width="1.4" height="1.4"/><rect x="487.3" y="395.3" width="1.4" height="1.4"/><rect x="489.3" y="396.3" width="1.4" height="1.4"/><rect x="492.8" y="396.3" width="1.4" height="1.4"/><rect x="494.3" y="394.3" width="1.4" height="1.4"/><rect x="496.3" y="397.3" width="1.4" height="1.4"/><rect x="501.8" y="396.8" width="1.4" height="1.4"/><rect x="504.8" y="393.8" width="1.4" height="1.4"/><rect x="507.3" y="396.3" width="1.4" height="1.4"/><rect x="505.3" y="399.3" width="1.4" height="1.4"/><rect x="506.3" y="402.3" width="1.4" height="1.4"/><rect x="510.8" y="398.8" width="1.4" height="1.4"/><rect x="515.3" y="399.8" width="1.4" height="1.4"/><rect x="517.3" y="400.8" width="1.4" height="1.4"/><rect x="480.8" y="402.8" width="1.4" height="1.4"/><rect x="482.8" y="402.8" width="1.4" height="1.4"/><rect x="487.3" y="401.3" width="1.4" height="1.4"/><rect x="487.8" y="403.8" width="1.4" height="1.4"/><rect x="493.3" y="403.3" width="1.4" height="1.4"/><rect x="496.8" y="400.3" width="1.4" height="1.4"/><rect x="497.8" y="402.8" width="1.4" height="1.4"/><rect x="468.3" y="406.3" width="1.4" height="1.4"/><rect x="476.3" y="406.8" width="1.4" height="1.4"/><rect x="485.3" y="406.3" width="1.4" height="1.4"/><rect x="488.3" y="407.8" width="1.4" height="1.4"/><rect x="491.3" y="408.8" width="1.4" height="1.4"/><rect x="495.8" y="408.8" width="1.4" height="1.4"/><rect x="502.3" y="410.8" width="1.4" height="1.4"/><rect x="508.3" y="407.8" width="1.4" height="1.4"/><rect x="511.3" y="408.8" width="1.4" height="1.4"/><rect x="515.8" y="411.3" width="1.4" height="1.4"/><rect x="463.3" y="410.3" width="1.4" height="1.4"/><rect x="467.8" y="410.8" width="1.4" height="1.4"/><rect x="470.8" y="410.8" width="1.4" height="1.4"/><rect x="482.8" y="410.3" width="1.4" height="1.4"/><rect x="485.3" y="411.3" width="1.4" height="1.4"/><rect x="488.3" y="412.3" width="1.4" height="1.4"/><rect x="492.3" y="410.3" width="1.4" height="1.4"/><rect x="496.3" y="410.8" width="1.4" height="1.4"/><rect x="507.3" y="413.3" width="1.4" height="1.4"/><rect x="459.8" y="407.3" width="1.4" height="1.4"/><rect x="527.6" y="418.4" width="1.4" height="1.4"/><rect x="527.1" y="421.1" width="1.4" height="1.4"/><rect x="539.9" y="419.0" width="1.4" height="1.4"/><rect x="537.9" y="416.6" width="1.4" height="1.4"/><rect x="523.0" y="427.1" width="1.4" height="1.4"/><rect x="518.9" y="422.5" width="1.4" height="1.4"/><rect x="546.9" y="414.5" width="1.4" height="1.4"/><rect x="548.6" y="414.5" width="1.4" height="1.4"/><rect x="520.6" y="366.1" width="1.4" height="1.4"/><rect x="529.4" y="368.4" width="1.4" height="1.4"/><rect x="539.9" y="367.8" width="1.4" height="1.4"/><rect x="545.1" y="370.1" width="1.4" height="1.4"/><rect x="548.1" y="366.1" width="1.4" height="1.4"/><rect x="551.5" y="368.4" width="1.4" height="1.4"/><rect x="550.4" y="369.5" width="1.4" height="1.4"/><rect x="526.5" y="371.9" width="1.4" height="1.4"/><rect x="527.6" y="372.5" width="1.4" height="1.4"/><rect x="555.6" y="372.5" width="1.4" height="1.4"/><rect x="558.5" y="371.3" width="1.4" height="1.4"/><rect x="564.4" y="370.7" width="1.4" height="1.4"/><rect x="566.1" y="368.4" width="1.4" height="1.4"/><rect x="565.0" y="373.1" width="1.4" height="1.4"/><rect x="580.7" y="373.6" width="1.4" height="1.4"/><rect x="581.9" y="375.4" width="1.4" height="1.4"/><rect x="579.5" y="366.1" width="1.4" height="1.4"/><rect x="528.2" y="376.0" width="1.4" height="1.4"/><rect x="530.5" y="376.5" width="1.4" height="1.4"/><rect x="549.2" y="374.8" width="1.4" height="1.4"/><rect x="552.1" y="375.4" width="1.4" height="1.4"/><rect x="551.5" y="377.1" width="1.4" height="1.4"/><rect x="559.1" y="378.3" width="1.4" height="1.4"/><rect x="563.8" y="378.9" width="1.4" height="1.4"/><rect x="576.1" y="379.5" width="1.4" height="1.4"/><rect x="519.5" y="378.3" width="1.4" height="1.4"/><rect x="518.9" y="383.5" width="1.4" height="1.4"/><rect x="530.0" y="381.2" width="1.4" height="1.4"/><rect x="532.3" y="380.1" width="1.4" height="1.4"/><rect x="537.0" y="378.3" width="1.4" height="1.4"/><rect x="541.6" y="384.1" width="1.4" height="1.4"/><rect x="543.4" y="386.5" width="1.4" height="1.4"/><rect x="546.9" y="381.2" width="1.4" height="1.4"/><rect x="547.5" y="382.4" width="1.4" height="1.4"/><rect x="546.3" y="387.6" width="1.4" height="1.4"/><rect x="556.8" y="387.1" width="1.4" height="1.4"/><rect x="556.2" y="388.2" width="1.4" height="1.4"/><rect x="558.5" y="388.2" width="1.4" height="1.4"/><rect x="563.8" y="386.5" width="1.4" height="1.4"/><rect x="566.1" y="387.6" width="1.4" height="1.4"/><rect x="567.3" y="386.5" width="1.4" height="1.4"/><rect x="568.5" y="390.5" width="1.4" height="1.4"/><rect x="582.5" y="386.5" width="1.4" height="1.4"/><rect x="576.1" y="388.2" width="1.4" height="1.4"/><rect x="525.3" y="390.5" width="1.4" height="1.4"/><rect x="523.0" y="392.9" width="1.4" height="1.4"/><rect x="522.4" y="398.1" width="1.4" height="1.4"/><rect x="529.4" y="392.9" width="1.4" height="1.4"/><rect x="524.7" y="395.8" width="1.4" height="1.4"/><rect x="550.4" y="392.3" width="1.4" height="1.4"/><rect x="553.3" y="390.5" width="1.4" height="1.4"/><rect x="555.6" y="392.3" width="1.4" height="1.4"/><rect x="549.2" y="395.2" width="1.4" height="1.4"/><rect x="571.4" y="395.8" width="1.4" height="1.4"/><rect x="541.1" y="398.7" width="1.4" height="1.4"/><rect x="530.0" y="401.1" width="1.4" height="1.4"/><rect x="548.1" y="402.2" width="1.4" height="1.4"/><rect x="554.5" y="402.2" width="1.4" height="1.4"/><rect x="566.1" y="404.5" width="1.4" height="1.4"/><rect x="569.1" y="405.1" width="1.4" height="1.4"/><rect x="565.5" y="406.9" width="1.4" height="1.4"/><rect x="559.1" y="406.9" width="1.4" height="1.4"/><rect x="565.0" y="409.2" width="1.4" height="1.4"/><rect x="543.4" y="405.7" width="1.4" height="1.4"/><rect x="538.7" y="406.3" width="1.4" height="1.4"/><rect x="530.0" y="405.1" width="1.4" height="1.4"/><rect x="544.5" y="408.6" width="1.4" height="1.4"/><rect x="526.5" y="412.1" width="1.4" height="1.4"/><rect x="532.3" y="412.1" width="1.4" height="1.4"/><rect x="546.9" y="413.3" width="1.4" height="1.4"/><rect x="550.4" y="413.3" width="1.4" height="1.4"/><rect x="297.0" y="274.8" width="1.4" height="1.4"/><rect x="328.3" y="276.0" width="1.4" height="1.4"/><rect x="323.6" y="313.1" width="1.4" height="1.4"/><rect x="259.6" y="322.3" width="1.4" height="1.4"/><rect x="325.8" y="326.8" width="1.4" height="1.4"/><rect x="326.6" y="332.8" width="1.4" height="1.4"/><rect x="346.6" y="331.1" width="1.4" height="1.4"/><rect x="348.3" y="334.0" width="1.4" height="1.4"/><rect x="350.0" y="338.1" width="1.4" height="1.4"/><rect x="357.1" y="325.3" width="1.4" height="1.4"/><rect x="286.3" y="338.6" width="1.4" height="1.4"/><rect x="356.3" y="339.0" width="1.4" height="1.4"/><rect x="362.0" y="286.0" width="1.4" height="1.4"/><rect x="363.3" y="290.3" width="1.4" height="1.4"/><rect x="392.0" y="286.1" width="1.4" height="1.4"/><rect x="446.3" y="284.5" width="1.4" height="1.4"/><rect x="420.8" y="309.3" width="1.4" height="1.4"/><rect x="443.3" y="309.8" width="1.4" height="1.4"/><rect x="450.5" y="307.3" width="1.4" height="1.4"/><rect x="454.5" y="310.6" width="1.4" height="1.4"/><rect x="407.5" y="314.3" width="1.4" height="1.4"/><rect x="435.8" y="318.5" width="1.4" height="1.4"/><rect x="447.0" y="318.6" width="1.4" height="1.4"/><rect x="428.8" y="322.0" width="1.4" height="1.4"/><rect x="430.8" y="322.6" width="1.4" height="1.4"/><rect x="445.3" y="323.6" width="1.4" height="1.4"/><rect x="458.0" y="319.3" width="1.4" height="1.4"/><rect x="458.0" y="323.1" width="1.4" height="1.4"/><rect x="429.6" y="329.0" width="1.4" height="1.4"/><rect x="438.3" y="329.8" width="1.4" height="1.4"/><rect x="447.5" y="331.5" width="1.4" height="1.4"/><rect x="414.1" y="332.6" width="1.4" height="1.4"/><rect x="402.0" y="335.3" width="1.4" height="1.4"/><rect x="407.1" y="334.8" width="1.4" height="1.4"/><rect x="383.8" y="337.0" width="1.4" height="1.4"/><rect x="439.1" y="334.3" width="1.4" height="1.4"/><rect x="449.6" y="334.8" width="1.4" height="1.4"/><rect x="448.0" y="337.3" width="1.4" height="1.4"/><rect x="441.1" y="338.5" width="1.4" height="1.4"/><rect x="456.3" y="334.3" width="1.4" height="1.4"/><rect x="395.8" y="340.1" width="1.4" height="1.4"/><rect x="414.6" y="340.1" width="1.4" height="1.4"/><rect x="422.5" y="341.1" width="1.4" height="1.4"/><rect x="425.5" y="340.3" width="1.4" height="1.4"/><rect x="455.0" y="340.3" width="1.4" height="1.4"/><rect x="359.1" y="325.3" width="1.4" height="1.4"/><rect x="391.1" y="341.5" width="1.4" height="1.4"/><rect x="383.3" y="342.0" width="1.4" height="1.4"/><rect x="523.6" y="274.8" width="1.4" height="1.4"/><rect x="531.1" y="276.0" width="1.4" height="1.4"/><rect x="510.0" y="279.0" width="1.4" height="1.4"/><rect x="473.8" y="283.5" width="1.4" height="1.4"/><rect x="493.3" y="282.3" width="1.4" height="1.4"/><rect x="480.5" y="286.8" width="1.4" height="1.4"/><rect x="488.8" y="294.8" width="1.4" height="1.4"/><rect x="490.8" y="294.0" width="1.4" height="1.4"/><rect x="500.5" y="293.1" width="1.4" height="1.4"/><rect x="506.3" y="296.8" width="1.4" height="1.4"/><rect x="510.0" y="296.1" width="1.4" height="1.4"/><rect x="512.0" y="294.5" width="1.4" height="1.4"/><rect x="522.6" y="299.5" width="1.4" height="1.4"/><rect x="482.1" y="301.0" width="1.4" height="1.4"/><rect x="482.8" y="300.1" width="1.4" height="1.4"/><rect x="534.5" y="302.0" width="1.4" height="1.4"/><rect x="554.1" y="305.3" width="1.4" height="1.4"/><rect x="532.1" y="307.6" width="1.4" height="1.4"/><rect x="520.0" y="309.8" width="1.4" height="1.4"/><rect x="465.8" y="311.5" width="1.4" height="1.4"/><rect x="462.5" y="314.0" width="1.4" height="1.4"/><rect x="490.0" y="313.6" width="1.4" height="1.4"/><rect x="511.6" y="314.0" width="1.4" height="1.4"/><rect x="520.3" y="315.6" width="1.4" height="1.4"/><rect x="531.6" y="315.1" width="1.4" height="1.4"/><rect x="540.8" y="312.6" width="1.4" height="1.4"/><rect x="542.0" y="314.3" width="1.4" height="1.4"/><rect x="549.6" y="313.6" width="1.4" height="1.4"/><rect x="548.3" y="316.0" width="1.4" height="1.4"/><rect x="557.5" y="314.3" width="1.4" height="1.4"/><rect x="467.5" y="316.5" width="1.4" height="1.4"/><rect x="474.1" y="319.5" width="1.4" height="1.4"/><rect x="489.5" y="321.0" width="1.4" height="1.4"/><rect x="459.1" y="319.8" width="1.4" height="1.4"/><rect x="520.5" y="323.1" width="1.4" height="1.4"/><rect x="543.0" y="321.1" width="1.4" height="1.4"/><rect x="551.3" y="321.1" width="1.4" height="1.4"/><rect x="463.0" y="326.1" width="1.4" height="1.4"/><rect x="470.0" y="327.0" width="1.4" height="1.4"/><rect x="495.8" y="324.3" width="1.4" height="1.4"/><rect x="555.0" y="325.3" width="1.4" height="1.4"/><rect x="555.8" y="326.5" width="1.4" height="1.4"/><rect x="469.6" y="330.6" width="1.4" height="1.4"/><rect x="467.5" y="332.3" width="1.4" height="1.4"/><rect x="461.6" y="331.8" width="1.4" height="1.4"/><rect x="478.3" y="329.8" width="1.4" height="1.4"/><rect x="490.3" y="328.1" width="1.4" height="1.4"/><rect x="498.3" y="329.8" width="1.4" height="1.4"/><rect x="503.0" y="331.0" width="1.4" height="1.4"/><rect x="511.3" y="329.8" width="1.4" height="1.4"/><rect x="517.5" y="329.5" width="1.4" height="1.4"/><rect x="530.0" y="328.1" width="1.4" height="1.4"/><rect x="530.5" y="331.8" width="1.4" height="1.4"/><rect x="524.3" y="331.1" width="1.4" height="1.4"/><rect x="536.6" y="331.5" width="1.4" height="1.4"/><rect x="498.0" y="333.1" width="1.4" height="1.4"/><rect x="503.0" y="333.5" width="1.4" height="1.4"/><rect x="494.1" y="334.5" width="1.4" height="1.4"/><rect x="475.0" y="335.3" width="1.4" height="1.4"/><rect x="470.3" y="336.1" width="1.4" height="1.4"/><rect x="460.3" y="337.0" width="1.4" height="1.4"/><rect x="510.8" y="337.3" width="1.4" height="1.4"/><rect x="513.8" y="337.8" width="1.4" height="1.4"/><rect x="524.5" y="336.8" width="1.4" height="1.4"/><rect x="530.5" y="336.1" width="1.4" height="1.4"/><rect x="551.6" y="337.8" width="1.4" height="1.4"/><rect x="479.1" y="339.0" width="1.4" height="1.4"/><rect x="496.3" y="339.8" width="1.4" height="1.4"/><rect x="474.1" y="341.5" width="1.4" height="1.4"/><rect x="476.6" y="341.5" width="1.4" height="1.4"/><rect x="500.8" y="341.5" width="1.4" height="1.4"/><rect x="503.3" y="341.5" width="1.4" height="1.4"/><rect x="550.5" y="341.5" width="1.4" height="1.4"/><rect x="573.9" y="282.0" width="1.4" height="1.4"/><rect x="562.6" y="296.3" width="1.4" height="1.4"/><rect x="577.9" y="300.3" width="1.4" height="1.4"/><rect x="572.3" y="304.3" width="1.4" height="1.4"/><rect x="585.6" y="304.3" width="1.4" height="1.4"/><rect x="563.6" y="310.3" width="1.4" height="1.4"/><rect x="570.0" y="316.7" width="1.4" height="1.4"/><rect x="570.0" y="318.3" width="1.4" height="1.4"/><rect x="559.0" y="318.3" width="1.4" height="1.4"/><rect x="561.0" y="320.0" width="1.4" height="1.4"/><rect x="575.0" y="326.0" width="1.4" height="1.4"/><rect x="582.3" y="328.7" width="1.4" height="1.4"/><rect x="561.6" y="331.6" width="1.4" height="1.4"/><rect x="570.6" y="333.6" width="1.4" height="1.4"/><rect x="571.0" y="335.0" width="1.4" height="1.4"/><rect x="576.3" y="341.0" width="1.4" height="1.4"/><rect x="295.3" y="347.3" width="1.4" height="1.4"/><rect x="298.3" y="352.3" width="1.4" height="1.4"/><rect x="297.0" y="354.0" width="1.4" height="1.4"/><rect x="290.8" y="358.1" width="1.4" height="1.4"/><rect x="291.6" y="361.1" width="1.4" height="1.4"/><rect x="289.6" y="362.8" width="1.4" height="1.4"/><rect x="310.5" y="357.8" width="1.4" height="1.4"/><rect x="322.1" y="346.0" width="1.4" height="1.4"/><rect x="324.6" y="342.8" width="1.4" height="1.4"/><rect x="327.1" y="347.3" width="1.4" height="1.4"/><rect x="321.3" y="351.1" width="1.4" height="1.4"/><rect x="333.3" y="351.1" width="1.4" height="1.4"/><rect x="341.1" y="349.5" width="1.4" height="1.4"/><rect x="342.5" y="354.8" width="1.4" height="1.4"/><rect x="332.5" y="359.5" width="1.4" height="1.4"/><rect x="324.6" y="363.5" width="1.4" height="1.4"/><rect x="341.1" y="362.8" width="1.4" height="1.4"/><rect x="349.1" y="345.6" width="1.4" height="1.4"/><rect x="353.0" y="351.0" width="1.4" height="1.4"/><rect x="352.5" y="356.0" width="1.4" height="1.4"/><rect x="354.6" y="355.3" width="1.4" height="1.4"/><rect x="349.6" y="360.6" width="1.4" height="1.4"/><rect x="352.1" y="360.3" width="1.4" height="1.4"/><rect x="355.8" y="363.1" width="1.4" height="1.4"/><rect x="383.3" y="342.6" width="1.4" height="1.4"/><rect x="425.0" y="345.3" width="1.4" height="1.4"/><rect x="434.1" y="347.3" width="1.4" height="1.4"/><rect x="436.6" y="350.3" width="1.4" height="1.4"/><rect x="443.3" y="345.6" width="1.4" height="1.4"/><rect x="446.1" y="344.8" width="1.4" height="1.4"/><rect x="452.5" y="344.8" width="1.4" height="1.4"/><rect x="449.6" y="350.6" width="1.4" height="1.4"/><rect x="387.5" y="349.8" width="1.4" height="1.4"/><rect x="397.8" y="349.8" width="1.4" height="1.4"/><rect x="405.0" y="349.8" width="1.4" height="1.4"/><rect x="410.0" y="349.3" width="1.4" height="1.4"/><rect x="425.0" y="349.3" width="1.4" height="1.4"/><rect x="390.0" y="353.1" width="1.4" height="1.4"/><rect x="378.3" y="353.1" width="1.4" height="1.4"/><rect x="375.8" y="354.0" width="1.4" height="1.4"/><rect x="384.6" y="356.5" width="1.4" height="1.4"/><rect x="385.0" y="358.6" width="1.4" height="1.4"/><rect x="412.1" y="356.0" width="1.4" height="1.4"/><rect x="417.0" y="359.0" width="1.4" height="1.4"/><rect x="412.1" y="359.8" width="1.4" height="1.4"/><rect x="412.1" y="362.3" width="1.4" height="1.4"/><rect x="424.1" y="354.0" width="1.4" height="1.4"/><rect x="423.6" y="357.6" width="1.4" height="1.4"/><rect x="406.6" y="357.0" width="1.4" height="1.4"/><rect x="400.8" y="361.1" width="1.4" height="1.4"/><rect x="403.0" y="362.6" width="1.4" height="1.4"/><rect x="406.3" y="362.3" width="1.4" height="1.4"/><rect x="393.8" y="362.0" width="1.4" height="1.4"/><rect x="387.5" y="360.6" width="1.4" height="1.4"/><rect x="371.6" y="364.0" width="1.4" height="1.4"/><rect x="374.1" y="364.0" width="1.4" height="1.4"/><rect x="360.0" y="359.0" width="1.4" height="1.4"/><rect x="443.6" y="356.0" width="1.4" height="1.4"/><rect x="450.8" y="359.0" width="1.4" height="1.4"/><rect x="453.8" y="358.1" width="1.4" height="1.4"/><rect x="454.6" y="360.6" width="1.4" height="1.4"/><rect x="445.0" y="362.3" width="1.4" height="1.4"/><rect x="428.0" y="362.6" width="1.4" height="1.4"/><rect x="433.3" y="363.1" width="1.4" height="1.4"/><rect x="474.1" y="342.3" width="1.4" height="1.4"/><rect x="476.6" y="342.3" width="1.4" height="1.4"/><rect x="496.6" y="342.3" width="1.4" height="1.4"/><rect x="500.8" y="343.1" width="1.4" height="1.4"/><rect x="503.3" y="344.0" width="1.4" height="1.4"/><rect x="488.3" y="345.3" width="1.4" height="1.4"/><rect x="489.1" y="347.6" width="1.4" height="1.4"/><rect x="526.3" y="344.8" width="1.4" height="1.4"/><rect x="539.1" y="344.3" width="1.4" height="1.4"/><rect x="550.8" y="342.3" width="1.4" height="1.4"/><rect x="556.6" y="345.6" width="1.4" height="1.4"/><rect x="544.1" y="348.6" width="1.4" height="1.4"/><rect x="549.1" y="348.1" width="1.4" height="1.4"/><rect x="481.6" y="349.3" width="1.4" height="1.4"/><rect x="473.3" y="350.3" width="1.4" height="1.4"/><rect x="461.6" y="351.5" width="1.4" height="1.4"/><rect x="495.8" y="349.8" width="1.4" height="1.4"/><rect x="510.8" y="350.6" width="1.4" height="1.4"/><rect x="511.6" y="353.1" width="1.4" height="1.4"/><rect x="517.5" y="351.5" width="1.4" height="1.4"/><rect x="531.6" y="353.1" width="1.4" height="1.4"/><rect x="536.6" y="349.8" width="1.4" height="1.4"/><rect x="546.6" y="353.1" width="1.4" height="1.4"/><rect x="549.6" y="353.6" width="1.4" height="1.4"/><rect x="490.0" y="355.3" width="1.4" height="1.4"/><rect x="501.6" y="355.3" width="1.4" height="1.4"/><rect x="499.1" y="357.6" width="1.4" height="1.4"/><rect x="505.8" y="358.1" width="1.4" height="1.4"/><rect x="517.5" y="355.3" width="1.4" height="1.4"/><rect x="528.3" y="356.0" width="1.4" height="1.4"/><rect x="530.8" y="358.1" width="1.4" height="1.4"/><rect x="540.0" y="359.0" width="1.4" height="1.4"/><rect x="546.6" y="359.0" width="1.4" height="1.4"/><rect x="554.1" y="359.8" width="1.4" height="1.4"/><rect x="471.6" y="359.3" width="1.4" height="1.4"/><rect x="475.8" y="357.6" width="1.4" height="1.4"/><rect x="480.0" y="361.5" width="1.4" height="1.4"/><rect x="491.6" y="359.8" width="1.4" height="1.4"/><rect x="508.3" y="362.3" width="1.4" height="1.4"/><rect x="513.3" y="362.3" width="1.4" height="1.4"/><rect x="524.1" y="362.3" width="1.4" height="1.4"/><rect x="461.6" y="363.1" width="1.4" height="1.4"/><rect x="465.3" y="363.6" width="1.4" height="1.4"/><rect x="519.1" y="360.6" width="1.4" height="1.4"/><rect x="559.8" y="347.3" width="1.4" height="1.4"/><rect x="561.8" y="346.8" width="1.4" height="1.4"/><rect x="569.5" y="348.3" width="1.4" height="1.4"/><rect x="579.3" y="348.3" width="1.4" height="1.4"/><rect x="573.8" y="353.8" width="1.4" height="1.4"/><rect x="582.8" y="352.8" width="1.4" height="1.4"/><rect x="584.5" y="352.3" width="1.4" height="1.4"/><rect x="584.1" y="358.1" width="1.4" height="1.4"/><rect x="581.6" y="359.3" width="1.4" height="1.4"/></g>
<path d="M170.0 428.8h7.2M173.6 425.2v7.2M195.2 422.9h7.2M198.8 419.3v7.2M202.7 432.4h7.2M206.3 428.8v7.2M231.4 377.0h7.2M235.0 373.4v7.2M221.9 390.5h7.2M225.5 386.9v7.2M267.2 391.2h7.2M270.8 387.6v7.2M234.9 417.5h7.2M238.5 413.9v7.2M257.4 419.5h7.2M261.0 415.9v7.2M264.4 417.0h7.2M268.0 413.4v7.2M247.4 425.0h7.2M251.0 421.4v7.2M269.4 426.5h7.2M273.0 422.9v7.2M220.9 433.0h7.2M224.5 429.4v7.2M225.4 424.0h7.2M229.0 420.4v7.2M296.4 418.8h7.2M300.0 415.2v7.2M298.9 429.0h7.2M302.5 425.4v7.2M347.4 420.5h7.2M351.0 416.9v7.2M360.4 417.0h7.2M364.0 413.4v7.2M376.9 433.0h7.2M380.5 429.4v7.2M388.9 440.0h7.2M392.5 436.4v7.2M378.9 368.8h7.2M382.5 365.2v7.2M340.9 394.5h7.2M344.5 390.9v7.2M358.9 397.0h7.2M362.5 393.4v7.2M357.4 399.5h7.2M361.0 395.9v7.2M371.4 403.0h7.2M375.0 399.4v7.2M377.9 411.0h7.2M381.5 407.4v7.2M417.2 423.8h7.2M420.8 420.2v7.2M424.9 418.8h7.2M428.5 415.2v7.2M445.9 416.5h7.2M449.5 412.9v7.2M448.9 423.0h7.2M452.5 419.4v7.2M412.9 440.8h7.2M416.5 437.2v7.2M441.4 374.5h7.2M445.0 370.9v7.2M431.4 383.0h7.2M435.0 379.4v7.2M449.4 383.0h7.2M453.0 379.4v7.2M434.9 396.5h7.2M438.5 392.9v7.2M426.4 399.0h7.2M430.0 395.4v7.2M399.4 402.0h7.2M403.0 398.4v7.2M408.9 409.0h7.2M412.5 405.4v7.2M405.9 412.0h7.2M409.5 408.4v7.2M450.9 406.0h7.2M454.5 402.4v7.2M461.9 421.5h7.2M465.5 417.9v7.2M473.2 424.2h7.2M476.8 420.6v7.2M475.9 430.5h7.2M479.5 426.9v7.2M463.9 396.0h7.2M467.5 392.4v7.2M499.4 390.0h7.2M503.0 386.4v7.2M497.4 406.0h7.2M501.0 402.4v7.2M469.9 412.0h7.2M473.5 408.4v7.2M514.4 396.5h7.2M518.0 392.9v7.2M552.7 422.6h7.2M556.3 419.0v7.2M558.0 375.5h7.2M561.6 371.9v7.2M569.3 379.6h7.2M572.9 376.0v7.2M565.6 384.2h7.2M569.2 380.6v7.2M573.2 384.2h7.2M576.8 380.6v7.2M579.6 381.3h7.2M583.2 377.7v7.2M533.5 383.7h7.2M537.1 380.1v7.2M530.0 387.2h7.2M533.6 383.6v7.2M532.3 387.8h7.2M535.9 384.2v7.2M531.7 398.8h7.2M535.3 395.2v7.2M530.6 405.2h7.2M534.2 401.6v7.2M542.2 395.9h7.2M545.8 392.3v7.2M551.6 396.5h7.2M555.2 392.9v7.2M560.3 400.6h7.2M563.9 397.0v7.2M583.1 399.4h7.2M586.7 395.8v7.2M535.8 413.4h7.2M539.4 409.8v7.2M518.4 343.8h7.2M522.0 340.2v7.2M516.2 348.0h7.2M519.8 344.4v7.2" stroke="#44e8f0" stroke-width="1.15" fill="none"/>
<g fill="none" stroke="#111" stroke-width="1.0"><circle cx="99.3" cy="450.2" r="3.3"/><circle cx="144.3" cy="443.0" r="3.3"/><circle cx="144.3" cy="447.5" r="3.3"/><circle cx="156.5" cy="445.5" r="3.3"/><circle cx="193.4" cy="443.7" r="3.3"/><circle cx="201.4" cy="443.9" r="3.3"/><circle cx="205.4" cy="453.2" r="3.3"/><circle cx="189.1" cy="456.7" r="3.3"/><circle cx="230.0" cy="424.2" r="3.3"/><circle cx="242.7" cy="430.5" r="3.3"/><circle cx="225.5" cy="433.5" r="3.3"/><circle cx="223.0" cy="434.5" r="3.3"/><circle cx="229.5" cy="438.5" r="3.3"/><circle cx="222.0" cy="441.5" r="3.3"/><circle cx="229.0" cy="442.0" r="3.3"/><circle cx="234.5" cy="443.0" r="3.3"/><circle cx="238.5" cy="444.0" r="3.3"/><circle cx="235.0" cy="445.0" r="3.3"/><circle cx="239.0" cy="447.0" r="3.3"/><circle cx="234.0" cy="448.0" r="3.3"/><circle cx="222.5" cy="453.5" r="3.3"/><circle cx="220.0" cy="448.0" r="3.3"/><circle cx="234.0" cy="455.5" r="3.3"/><circle cx="258.5" cy="431.5" r="3.3"/><circle cx="263.0" cy="436.5" r="3.3"/><circle cx="254.5" cy="439.0" r="3.3"/><circle cx="254.5" cy="442.0" r="3.3"/><circle cx="259.0" cy="444.0" r="3.3"/><circle cx="250.0" cy="448.5" r="3.3"/><circle cx="255.0" cy="448.5" r="3.3"/><circle cx="266.5" cy="446.0" r="3.3"/><circle cx="274.5" cy="438.5" r="3.3"/><circle cx="275.0" cy="442.0" r="3.3"/><circle cx="278.0" cy="447.0" r="3.3"/><circle cx="291.0" cy="424.5" r="3.3"/><circle cx="291.0" cy="427.5" r="3.3"/><circle cx="283.5" cy="427.5" r="3.3"/><circle cx="285.0" cy="435.0" r="3.3"/><circle cx="295.0" cy="434.5" r="3.3"/><circle cx="300.5" cy="429.0" r="3.3"/><circle cx="303.5" cy="428.0" r="3.3"/><circle cx="305.5" cy="430.0" r="3.3"/><circle cx="300.0" cy="435.0" r="3.3"/><circle cx="308.5" cy="433.0" r="3.3"/><circle cx="311.5" cy="421.5" r="3.3"/><circle cx="291.0" cy="441.0" r="3.3"/><circle cx="295.5" cy="443.5" r="3.3"/><circle cx="280.0" cy="441.5" r="3.3"/><circle cx="281.0" cy="447.0" r="3.3"/><circle cx="286.5" cy="447.0" r="3.3"/><circle cx="291.5" cy="448.5" r="3.3"/><circle cx="295.5" cy="454.0" r="3.3"/><circle cx="324.0" cy="437.8" r="3.3"/><circle cx="332.0" cy="428.5" r="3.3"/><circle cx="336.5" cy="436.0" r="3.3"/><circle cx="337.5" cy="438.5" r="3.3"/><circle cx="348.5" cy="427.8" r="3.3"/><circle cx="356.5" cy="434.5" r="3.3"/><circle cx="352.5" cy="440.5" r="3.3"/><circle cx="360.5" cy="423.5" r="3.3"/><circle cx="365.0" cy="419.5" r="3.3"/><circle cx="369.0" cy="429.8" r="3.3"/><circle cx="381.0" cy="423.2" r="3.3"/><circle cx="377.0" cy="439.5" r="3.3"/><circle cx="381.5" cy="440.8" r="3.3"/><circle cx="340.5" cy="405.5" r="3.3"/><circle cx="405.8" cy="430.5" r="3.3"/><circle cx="156.9" cy="445.9" r="3.3"/></g>
<g fill="#999"><rect x="98.8" y="449.7" width="1" height="1"/><rect x="143.8" y="442.5" width="1" height="1"/><rect x="143.8" y="447.0" width="1" height="1"/><rect x="156.0" y="445.0" width="1" height="1"/><rect x="192.9" y="443.2" width="1" height="1"/><rect x="200.9" y="443.4" width="1" height="1"/><rect x="204.9" y="452.7" width="1" height="1"/><rect x="188.6" y="456.2" width="1" height="1"/><rect x="229.5" y="423.7" width="1" height="1"/><rect x="242.2" y="430.0" width="1" height="1"/><rect x="225.0" y="433.0" width="1" height="1"/><rect x="222.5" y="434.0" width="1" height="1"/><rect x="229.0" y="438.0" width="1" height="1"/><rect x="221.5" y="441.0" width="1" height="1"/><rect x="228.5" y="441.5" width="1" height="1"/><rect x="234.0" y="442.5" width="1" height="1"/><rect x="238.0" y="443.5" width="1" height="1"/><rect x="234.5" y="444.5" width="1" height="1"/><rect x="238.5" y="446.5" width="1" height="1"/><rect x="233.5" y="447.5" width="1" height="1"/><rect x="222.0" y="453.0" width="1" height="1"/><rect x="219.5" y="447.5" width="1" height="1"/><rect x="233.5" y="455.0" width="1" height="1"/><rect x="258.0" y="431.0" width="1" height="1"/><rect x="262.5" y="436.0" width="1" height="1"/><rect x="254.0" y="438.5" width="1" height="1"/><rect x="254.0" y="441.5" width="1" height="1"/><rect x="258.5" y="443.5" width="1" height="1"/><rect x="249.5" y="448.0" width="1" height="1"/><rect x="254.5" y="448.0" width="1" height="1"/><rect x="266.0" y="445.5" width="1" height="1"/><rect x="274.0" y="438.0" width="1" height="1"/><rect x="274.5" y="441.5" width="1" height="1"/><rect x="277.5" y="446.5" width="1" height="1"/><rect x="290.5" y="424.0" width="1" height="1"/><rect x="290.5" y="427.0" width="1" height="1"/><rect x="283.0" y="427.0" width="1" height="1"/><rect x="284.5" y="434.5" width="1" height="1"/><rect x="294.5" y="434.0" width="1" height="1"/><rect x="300.0" y="428.5" width="1" height="1"/><rect x="303.0" y="427.5" width="1" height="1"/><rect x="305.0" y="429.5" width="1" height="1"/><rect x="299.5" y="434.5" width="1" height="1"/><rect x="308.0" y="432.5" width="1" height="1"/><rect x="311.0" y="421.0" width="1" height="1"/><rect x="290.5" y="440.5" width="1" height="1"/><rect x="295.0" y="443.0" width="1" height="1"/><rect x="279.5" y="441.0" width="1" height="1"/><rect x="280.5" y="446.5" width="1" height="1"/><rect x="286.0" y="446.5" width="1" height="1"/><rect x="291.0" y="448.0" width="1" height="1"/><rect x="295.0" y="453.5" width="1" height="1"/><rect x="323.5" y="437.3" width="1" height="1"/><rect x="331.5" y="428.0" width="1" height="1"/><rect x="336.0" y="435.5" width="1" height="1"/><rect x="337.0" y="438.0" width="1" height="1"/><rect x="348.0" y="427.3" width="1" height="1"/><rect x="356.0" y="434.0" width="1" height="1"/><rect x="352.0" y="440.0" width="1" height="1"/><rect x="360.0" y="423.0" width="1" height="1"/><rect x="364.5" y="419.0" width="1" height="1"/><rect x="368.5" y="429.3" width="1" height="1"/><rect x="380.5" y="422.7" width="1" height="1"/><rect x="376.5" y="439.0" width="1" height="1"/><rect x="381.0" y="440.3" width="1" height="1"/><rect x="340.0" y="405.0" width="1" height="1"/><rect x="405.3" y="430.0" width="1" height="1"/><rect x="156.4" y="445.4" width="1" height="1"/></g>
<path d="M91.5 289.5V324.5M88.3 289.5h6.4M88.3 324.5h6.4M70.5 307.5H112.5M70.5 304.3v6.4M112.5 304.3v6.4" stroke="#333" stroke-width="1.1" fill="none"/>
<text x="49.6" y="217.5" text-anchor="end" font-size="15" >0</text>
<text x="49.6" y="480.8" text-anchor="end" font-size="15" >0</text>
<text x="49.6" y="149.93333333333334" text-anchor="end" font-size="15" >0.1</text>
<text x="49.6" y="413.43333333333334" text-anchor="end" font-size="15" >0.1</text>
<text x="49.6" y="82.36666666666666" text-anchor="end" font-size="15" >0.2</text>
<text x="49.6" y="346.06666666666666" text-anchor="end" font-size="15" >0.2</text>
<text x="49.6" y="14.8" text-anchor="end" font-size="15" >0.3</text>
<text x="49.6" y="278.7" text-anchor="end" font-size="15" >0.3</text>
<text x="60.5" y="232.7" text-anchor="middle" font-size="15" >14</text>
<text x="166.56" y="232.7" text-anchor="middle" font-size="15" >15</text>
<text x="272.62" y="232.7" text-anchor="middle" font-size="15" >16</text>
<text x="378.67999999999995" y="232.7" text-anchor="middle" font-size="15" >17</text>
<text x="484.73999999999995" y="232.7" text-anchor="middle" font-size="15" >18</text>
<text x="590.8" y="232.7" text-anchor="middle" font-size="15" >19</text>
<text x="60.5" y="496.6" text-anchor="middle" font-size="15" >0.2</text>
<text x="142.0846153846154" y="496.6" text-anchor="middle" font-size="15" >0.4</text>
<text x="223.66923076923075" y="496.6" text-anchor="middle" font-size="15" >0.6</text>
<text x="305.25384615384615" y="496.6" text-anchor="middle" font-size="15" >0.8</text>
<text x="386.83846153846156" y="496.6" text-anchor="middle" font-size="15" >1</text>
<text x="468.42307692307685" y="496.6" text-anchor="middle" font-size="15" >1.2</text>
<text x="550.0076923076922" y="496.6" text-anchor="middle" font-size="15" >1.4</text>
<text x="0" y="0" font-size="15" text-anchor="middle" transform="translate(13.2 110.5) rotate(-90)">Photoz</text>
<text x="0" y="0" font-size="15" text-anchor="middle" transform="translate(13.2 373.9) rotate(-90)">Photoz</text>
<text x="317.9" y="253.8" font-size="15">r<tspan font-size="12" dy="4.8">0</tspan></text>
<text x="307.2" y="517.8" font-size="15">(g-i)<tspan font-size="12" dy="4.4">0</tspan></text>
</svg>
</body></html>
